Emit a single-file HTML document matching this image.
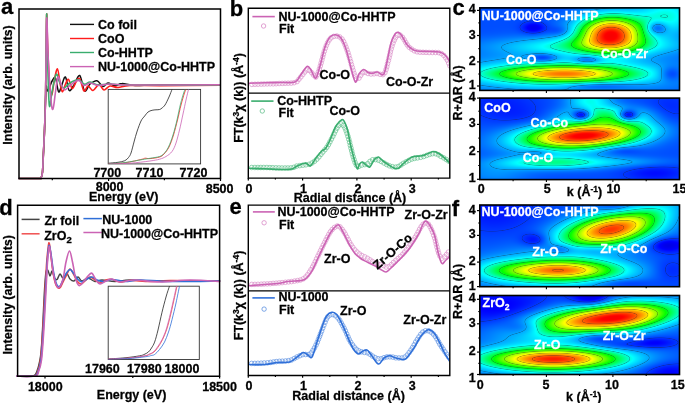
<!DOCTYPE html>
<html><head><meta charset="utf-8"><style>
html,body{margin:0;padding:0;background:#fff;}
#wrap{position:relative;width:685px;height:403px;overflow:hidden;background:#fff;}
svg{position:absolute;left:0;top:0;}
text{font-family:"Liberation Sans", sans-serif;stroke-width:0.28px;paint-order:fill;}
</style></head><body><div id="wrap"><canvas id="map0" width="201" height="84" style="position:absolute;left:479px;top:7px;background:#1a8cff"></canvas><canvas id="map1" width="201" height="82" style="position:absolute;left:479px;top:98px;background:#1a8cff"></canvas><canvas id="map2" width="201" height="82" style="position:absolute;left:479px;top:205px;background:#1a8cff"></canvas><canvas id="map3" width="201" height="80" style="position:absolute;left:479px;top:295px;background:#1a8cff"></canvas>
<svg width="685" height="403" viewBox="0 0 685 403" font-family='"Liberation Sans", sans-serif'>
<text x="1.0" y="14.2" font-size="22" text-anchor="start" fill="#000" stroke="#000" font-weight="bold" >a</text>
<path d="M19.0,178.5C22.3,178.5 35.3,178.6 39.0,178.5C42.7,178.4 40.4,178.9 41.0,177.8C41.6,176.7 42.1,176.6 42.5,172.0C42.9,167.4 43.2,157.3 43.6,150.0C44.0,142.7 44.3,136.3 44.6,128.0C44.9,119.7 45.2,107.0 45.5,100.0C45.8,93.0 45.9,87.5 46.2,86.0C46.5,84.5 46.8,91.0 47.4,91.0C48.0,91.0 49.2,87.8 50.0,86.0C50.8,84.2 51.5,81.8 52.4,80.5C53.3,79.2 54.5,76.1 55.5,78.0C56.5,79.9 57.6,90.5 58.6,91.8C59.6,93.1 60.4,88.5 61.5,86.0C62.6,83.5 64.1,76.2 65.4,77.0C66.7,77.8 67.8,89.2 69.2,90.5C70.6,91.8 72.2,87.5 74.0,85.0C75.8,82.5 77.9,74.5 79.7,75.5C81.5,76.5 82.9,89.6 84.6,91.0C86.3,92.4 87.9,85.7 90.0,84.0C92.1,82.3 94.8,80.3 97.0,80.7C99.2,81.1 101.2,86.1 103.0,86.5C104.8,86.9 106.0,83.1 108.0,83.0C110.0,82.9 112.7,85.7 115.0,85.8C117.3,85.9 118.7,83.6 122.0,83.6C125.3,83.5 128.7,85.3 135.0,85.5C141.3,85.7 145.8,84.9 160.0,84.8C174.2,84.7 210.0,85.0 220.0,85.0" fill="none" stroke="#111" stroke-width="1.5" stroke-linejoin="round" stroke-linecap="round" opacity="1"/>
<path d="M19.0,178.5C22.3,178.5 35.3,178.6 39.0,178.5C42.7,178.4 40.4,178.9 41.0,177.8C41.6,176.7 42.1,176.6 42.5,172.0C42.9,167.4 43.2,157.3 43.6,150.0C44.0,142.7 44.3,136.3 44.6,128.0C44.9,119.7 45.2,113.0 45.5,100.0C45.8,87.0 45.9,64.3 46.1,50.0C46.3,35.7 46.5,14.8 46.7,14.0C47.0,13.2 47.1,33.3 47.6,45.0C48.1,56.7 48.8,75.7 49.5,84.0C50.2,92.3 51.0,95.3 51.8,95.0C52.5,94.7 53.1,86.4 54.0,82.0C54.9,77.6 56.4,68.6 57.4,68.8C58.4,69.0 59.2,79.2 60.0,83.0C60.8,86.8 61.4,91.6 62.3,91.8C63.2,92.0 64.5,86.1 65.5,84.0C66.5,81.9 67.4,78.7 68.5,79.4C69.6,80.2 71.0,88.1 72.2,88.5C73.5,88.9 74.8,83.7 76.0,82.0C77.2,80.3 78.4,77.1 79.7,78.6C81.0,80.1 82.6,89.8 84.0,91.0C85.4,92.2 86.5,86.1 88.0,86.0C89.5,85.9 91.2,90.8 93.0,90.5C94.8,90.2 97.2,84.6 99.0,84.5C100.8,84.4 102.2,89.8 104.0,90.0C105.8,90.2 107.7,86.4 110.0,86.0C112.3,85.6 114.7,87.6 118.0,87.5C121.3,87.4 123.0,85.8 130.0,85.5C137.0,85.2 145.0,85.6 160.0,85.6C175.0,85.6 210.0,85.3 220.0,85.3" fill="none" stroke="#ff1c1c" stroke-width="1.6" stroke-linejoin="round" stroke-linecap="round" opacity="1"/>
<path d="M19.0,178.5C22.3,178.5 35.3,178.6 39.0,178.5C42.7,178.4 40.4,178.9 41.0,177.8C41.6,176.7 42.1,176.6 42.5,172.0C42.9,167.4 43.2,157.3 43.6,150.0C44.0,142.7 44.3,136.3 44.6,128.0C44.9,119.7 45.2,113.0 45.5,100.0C45.8,87.0 45.9,64.3 46.1,50.0C46.3,35.7 46.5,12.3 46.7,14.0C47.0,15.7 47.2,44.8 47.6,60.0C48.0,75.2 48.6,100.1 49.3,105.4C50.0,110.7 50.9,97.2 52.0,92.0C53.1,86.8 54.9,76.1 56.1,74.4C57.4,72.7 58.2,79.7 59.5,82.0C60.8,84.3 61.9,87.8 63.6,88.0C65.3,88.2 67.3,84.4 69.8,83.0C72.3,81.6 75.9,79.6 78.4,79.8C80.9,80.0 82.7,83.8 84.6,84.2C86.5,84.6 87.8,81.9 90.0,82.0C92.2,82.1 94.7,84.7 98.0,85.0C101.3,85.3 104.7,84.0 110.0,84.0C115.3,84.0 111.7,84.8 130.0,85.0C148.3,85.2 205.0,85.0 220.0,85.0" fill="none" stroke="#3aad6e" stroke-width="1.6" stroke-linejoin="round" stroke-linecap="round" opacity="1"/>
<path d="M19.0,178.5C22.3,178.5 35.3,178.6 39.0,178.5C42.7,178.4 40.4,178.9 41.0,177.8C41.6,176.7 42.1,176.6 42.5,172.0C42.9,167.4 43.2,157.3 43.6,150.0C44.0,142.7 44.3,136.3 44.6,128.0C44.9,119.7 45.2,112.2 45.5,100.0C45.8,87.8 45.9,68.7 46.1,55.0C46.3,41.3 46.4,17.2 46.8,18.0C47.2,18.8 47.6,46.3 48.3,60.0C49.0,73.7 50.2,91.8 51.0,100.0C51.8,108.2 52.2,110.3 53.0,109.0C53.8,107.7 54.7,97.3 55.5,92.0C56.3,86.7 57.1,78.2 58.0,76.9C58.9,75.6 59.9,81.8 61.0,84.0C62.1,86.2 63.3,89.6 64.8,89.9C66.3,90.2 67.5,87.2 69.8,85.6C72.1,84.0 76.0,80.4 78.4,80.4C80.8,80.4 82.1,85.1 84.0,85.5C85.9,85.9 87.7,83.0 90.0,83.0C92.3,83.0 94.7,85.3 98.0,85.5C101.3,85.7 104.7,84.1 110.0,84.0C115.3,83.9 111.7,84.9 130.0,85.0C148.3,85.1 205.0,84.8 220.0,84.7" fill="none" stroke="#cb63b4" stroke-width="1.6" stroke-linejoin="round" stroke-linecap="round" opacity="1"/>
<rect x="108.2" y="89.4" width="92.4" height="74.5" fill="#fff" stroke="#333" stroke-width="0.9"/>
<clipPath id="cia"><rect x="108.2" y="89.4" width="92.4" height="74.5"/></clipPath><g clip-path="url(#cia)">
<path d="M108.7,163.2C110.2,163.0 115.3,162.7 118.0,162.3C120.7,161.9 123.0,161.5 124.8,160.7C126.5,159.9 127.5,158.8 128.5,157.5C129.5,156.2 130.1,155.6 131.0,153.0C131.9,150.4 133.0,145.7 134.0,142.0C135.0,138.3 136.0,134.5 137.2,131.0C138.4,127.5 139.8,123.5 141.0,121.0C142.2,118.5 143.5,117.5 144.7,116.0C145.9,114.5 146.8,113.0 148.0,112.0C149.2,111.0 150.8,110.7 152.1,110.3C153.4,109.9 154.8,109.9 156.0,109.8C157.2,109.7 158.6,109.8 159.6,109.5C160.6,109.2 161.1,108.8 162.0,108.0C162.9,107.2 163.8,106.8 165.0,105.0C166.2,103.2 167.8,99.6 169.0,97.0C170.2,94.4 171.5,90.7 172.0,89.4" fill="none" stroke="#222" stroke-width="0.8" stroke-linejoin="round" stroke-linecap="round" opacity="1"/>
<path d="M108.7,163.9C111.4,163.7 119.4,163.6 125.0,162.8C130.6,162.0 138.9,160.0 142.2,159.2C145.5,158.4 143.7,158.3 145.0,158.2C146.3,158.1 147.6,158.8 150.0,158.6C152.4,158.4 157.3,157.8 159.6,157.0C161.9,156.2 162.4,155.7 164.0,154.0C165.6,152.3 167.4,150.2 169.0,147.0C170.6,143.8 172.1,139.5 173.5,135.0C174.9,130.5 176.2,125.0 177.5,120.0C178.8,115.0 179.8,109.5 181.0,105.0C182.2,100.5 183.6,95.6 184.5,93.0C185.4,90.4 185.9,90.0 186.2,89.4" fill="none" stroke="#ff1c1c" stroke-width="0.8" stroke-linejoin="round" stroke-linecap="round" opacity="1"/>
<path d="M108.7,163.8C111.4,163.6 119.4,163.2 125.0,162.5C130.6,161.8 138.0,160.3 142.2,159.6C146.4,158.9 147.1,158.8 150.0,158.3C152.9,157.8 157.3,157.3 159.6,156.5C161.9,155.7 162.5,155.1 164.0,153.5C165.5,151.9 167.0,150.1 168.5,147.0C170.0,143.9 171.6,139.5 173.0,135.0C174.4,130.5 175.8,125.2 177.0,120.0C178.2,114.8 179.3,108.7 180.5,104.0C181.7,99.3 183.2,94.4 184.0,92.0C184.8,89.6 184.8,89.8 185.0,89.4" fill="none" stroke="#3aad6e" stroke-width="0.8" stroke-linejoin="round" stroke-linecap="round" opacity="1"/>
<path d="M108.7,164.0C112.2,163.9 123.1,163.7 130.0,163.2C136.9,162.7 145.1,161.7 150.0,161.0C154.9,160.3 156.9,159.9 159.6,159.2C162.3,158.4 163.9,157.8 166.0,156.5C168.1,155.2 170.3,153.8 172.0,151.5C173.7,149.2 174.8,146.6 176.0,143.0C177.2,139.4 178.3,134.8 179.5,130.0C180.7,125.2 181.9,119.0 183.0,114.0C184.1,109.0 185.1,104.1 186.0,100.0C186.9,95.9 188.1,91.2 188.5,89.4" fill="none" stroke="#cb63b4" stroke-width="0.8" stroke-linejoin="round" stroke-linecap="round" opacity="1"/>
</g>
<path d="M19,9 H220.5 V178.5 H19 Z" fill="none" stroke="#000" stroke-width="1.5"/>
<line x1="52.3" y1="178.5" x2="52.3" y2="180.3" stroke="#000" stroke-width="1.2"/>
<line x1="164.4" y1="178.5" x2="164.4" y2="180.3" stroke="#000" stroke-width="1.2"/>
<line x1="108.6" y1="178.5" x2="108.6" y2="181.0" stroke="#000" stroke-width="1.2"/>
<line x1="220.5" y1="178.5" x2="220.5" y2="181.0" stroke="#000" stroke-width="1.2"/>
<text x="109.6" y="191.0" font-size="12.5" text-anchor="middle" fill="#000" stroke="#000" font-weight="bold" >8000</text>
<text x="219.6" y="193.3" font-size="12.5" text-anchor="middle" fill="#000" stroke="#000" font-weight="bold" >8500</text>
<text x="123.7" y="201.3" font-size="12.5" text-anchor="middle" fill="#000" stroke="#000" font-weight="bold" >Energy (eV)</text>
<text x="107.3" y="177.0" font-size="12.5" text-anchor="middle" fill="#000" stroke="#000" font-weight="bold" >7700</text>
<text x="149.5" y="177.0" font-size="12.5" text-anchor="middle" fill="#000" stroke="#000" font-weight="bold" >7710</text>
<text x="193.5" y="177.0" font-size="12.5" text-anchor="middle" fill="#000" stroke="#000" font-weight="bold" >7720</text>
<text stroke="#000" transform="translate(11.8,85) rotate(-90)" font-size="12.5" font-weight="bold" text-anchor="middle">Intensity (arb. units)</text>
<line x1="70.0" y1="24.4" x2="94.0" y2="24.4" stroke="#111" stroke-width="1.4"/>
<text x="98.0" y="28.7" font-size="12.5" text-anchor="start" fill="#000" stroke="#000" font-weight="bold" >Co foil</text>
<line x1="70.0" y1="38.5" x2="94.0" y2="38.5" stroke="#ff1c1c" stroke-width="1.4"/>
<text x="98.0" y="42.8" font-size="12.5" text-anchor="start" fill="#000" stroke="#000" font-weight="bold" >CoO</text>
<line x1="70.0" y1="52.5" x2="94.0" y2="52.5" stroke="#3aad6e" stroke-width="1.4"/>
<text x="98.0" y="56.8" font-size="12.5" text-anchor="start" fill="#000" stroke="#000" font-weight="bold" >Co-HHTP</text>
<line x1="70.0" y1="66.6" x2="94.0" y2="66.6" stroke="#cb63b4" stroke-width="1.4"/>
<text x="98.0" y="70.9" font-size="12.5" text-anchor="start" fill="#000" stroke="#000" font-weight="bold" >NU-1000@Co-HHTP</text>
<text x="-0.8" y="215.3" font-size="22" text-anchor="start" fill="#000" stroke="#000" font-weight="bold" >d</text>
<path d="M16.8,376.2C19.5,376.2 29.7,376.8 33.0,376.0C36.3,375.2 35.6,374.0 36.7,371.7C37.8,369.4 38.8,365.6 39.5,362.0C40.2,358.4 40.6,357.0 41.2,350.0C41.8,343.0 42.5,330.0 43.0,320.0C43.5,310.0 44.0,298.0 44.5,290.0C45.0,282.0 45.4,275.2 46.0,272.0C46.6,268.8 47.3,269.8 48.0,270.5C48.7,271.2 49.3,275.9 50.0,276.0C50.7,276.1 51.4,270.7 52.1,271.0C52.9,271.3 53.7,276.6 54.5,278.0C55.3,279.4 56.2,280.1 57.1,279.4C58.0,278.7 59.0,274.2 60.0,274.0C61.0,273.8 61.8,278.0 63.0,278.0C64.2,278.0 65.8,273.8 67.0,274.0C68.2,274.2 68.8,277.8 70.0,279.0C71.2,280.2 72.7,281.3 74.0,281.0C75.3,280.7 76.7,277.0 78.0,277.0C79.3,277.0 80.3,280.8 82.0,281.0C83.7,281.2 85.8,277.9 88.0,278.0C90.2,278.1 92.7,281.2 95.0,281.5C97.3,281.8 98.7,280.0 102.0,280.0C105.3,280.0 110.3,281.5 115.0,281.5C119.7,281.5 122.5,280.1 130.0,280.0C137.5,279.9 145.1,280.9 160.0,281.0C174.9,281.1 209.7,280.8 219.6,280.8" fill="none" stroke="#444" stroke-width="1.4" stroke-linejoin="round" stroke-linecap="round" opacity="1"/>
<path d="M16.8,376.2C19.7,376.2 30.6,376.7 34.0,376.0C37.5,375.3 36.4,374.7 37.5,372.0C38.6,369.3 39.7,366.2 40.5,360.0C41.3,353.8 41.8,345.0 42.5,335.0C43.2,325.0 43.8,311.7 44.5,300.0C45.2,288.3 45.9,273.8 46.5,265.0C47.1,256.2 47.8,250.7 48.2,247.0C48.7,243.3 48.8,242.2 49.2,243.0C49.6,243.8 49.9,247.2 50.5,252.0C51.1,256.8 52.1,266.5 53.0,272.0C53.9,277.5 54.9,282.3 56.0,285.0C57.1,287.7 58.4,288.5 59.6,288.0C60.8,287.5 61.9,284.2 63.0,282.0C64.2,279.8 65.3,277.2 66.5,275.0C67.7,272.8 68.8,269.2 70.0,269.0C71.2,268.8 72.3,272.0 73.5,274.0C74.7,276.0 75.8,279.3 77.0,281.0C78.2,282.7 79.7,284.0 81.0,284.0C82.3,284.0 83.5,282.2 85.0,281.0C86.5,279.8 88.3,277.2 90.0,277.0C91.7,276.8 93.3,279.0 95.0,280.0C96.7,281.0 98.2,283.0 100.0,283.0C101.8,283.0 104.0,280.6 106.0,280.0C108.0,279.4 109.7,279.2 112.0,279.5C114.3,279.8 117.0,281.8 120.0,282.0C123.0,282.2 125.0,280.6 130.0,280.5C135.0,280.4 143.3,281.5 150.0,281.5C156.7,281.5 158.4,280.6 170.0,280.5C181.6,280.4 211.3,280.9 219.6,281.0" fill="none" stroke="#f04040" stroke-width="1.6" stroke-linejoin="round" stroke-linecap="round" opacity="1"/>
<path d="M16.8,376.2C19.8,376.2 31.0,376.7 34.5,376.0C38.0,375.3 36.9,374.7 38.0,372.0C39.1,369.3 40.2,366.2 41.0,360.0C41.8,353.8 42.3,345.0 43.0,335.0C43.7,325.0 44.3,311.7 45.0,300.0C45.7,288.3 46.4,273.7 47.0,265.0C47.6,256.3 48.1,251.2 48.5,248.0C48.9,244.8 49.1,245.0 49.5,246.0C49.9,247.0 50.3,249.7 51.0,254.0C51.7,258.3 52.6,267.0 53.5,272.0C54.4,277.0 55.5,281.6 56.5,284.0C57.5,286.4 58.5,287.2 59.6,286.5C60.7,285.8 61.9,282.2 63.0,280.0C64.2,277.8 65.3,274.8 66.5,273.0C67.7,271.2 69.0,269.3 70.3,269.5C71.5,269.7 72.7,272.3 74.0,274.0C75.3,275.7 76.7,278.2 78.0,279.5C79.3,280.8 80.5,282.0 82.0,281.9C83.5,281.8 85.3,279.8 87.0,279.0C88.7,278.2 90.3,276.8 92.0,277.0C93.7,277.2 95.0,279.2 97.0,280.0C99.0,280.8 101.5,281.6 104.0,281.5C106.5,281.4 108.5,279.5 112.0,279.5C115.5,279.5 120.3,281.4 125.0,281.5C129.7,281.6 132.5,280.0 140.0,280.0C147.5,280.0 156.7,281.3 170.0,281.5C183.3,281.7 211.3,281.1 219.6,281.0" fill="none" stroke="#2f6fd8" stroke-width="1.6" stroke-linejoin="round" stroke-linecap="round" opacity="1"/>
<path d="M16.8,376.2C19.8,376.2 31.4,376.7 35.0,376.0C38.6,375.3 37.4,374.7 38.5,372.0C39.6,369.3 40.7,366.2 41.5,360.0C42.3,353.8 42.8,345.0 43.5,335.0C44.2,325.0 44.9,311.7 45.5,300.0C46.1,288.3 46.8,273.5 47.3,265.0C47.8,256.5 48.4,252.0 48.8,249.0C49.2,246.0 49.2,245.8 49.6,247.0C50.0,248.2 50.4,251.5 51.0,256.0C51.6,260.5 52.6,269.1 53.5,274.0C54.4,278.9 55.5,283.3 56.5,285.5C57.5,287.7 58.5,288.1 59.6,287.0C60.7,285.9 61.9,283.2 63.0,279.0C64.1,274.8 64.9,266.7 66.0,262.0C67.1,257.3 68.4,251.0 69.5,251.0C70.6,251.0 71.4,257.2 72.5,262.0C73.6,266.8 74.8,276.1 76.0,280.0C77.2,283.9 78.2,285.4 79.5,285.6C80.8,285.8 82.6,282.6 84.0,281.0C85.4,279.4 86.7,277.3 88.0,276.0C89.3,274.7 90.6,272.5 91.9,273.2C93.2,273.9 94.7,278.2 96.0,280.0C97.3,281.8 98.3,283.8 100.0,284.0C101.7,284.2 104.0,281.8 106.0,281.0C108.0,280.2 109.7,278.8 112.0,279.0C114.3,279.2 116.2,281.8 120.0,282.0C123.8,282.2 128.3,280.0 135.0,280.0C141.7,280.0 150.8,282.0 160.0,282.0C169.2,282.0 180.1,280.1 190.0,280.0C199.9,279.9 214.7,281.2 219.6,281.5" fill="none" stroke="#cb63b4" stroke-width="1.6" stroke-linejoin="round" stroke-linecap="round" opacity="1"/>
<rect x="108.2" y="286.2" width="91.1" height="73.3" fill="#fff" stroke="#333" stroke-width="0.9"/>
<clipPath id="cid"><rect x="108.2" y="286.2" width="91.1" height="73.3"/></clipPath><g clip-path="url(#cid)">
<path d="M108.2,359.0C111.0,358.8 119.8,358.3 125.0,357.8C130.2,357.3 136.5,356.4 139.7,355.8C142.9,355.2 142.6,355.1 144.0,354.5C145.4,353.9 147.2,353.1 148.4,352.0C149.7,350.9 150.5,349.6 151.5,348.0C152.5,346.4 153.5,345.1 154.6,342.1C155.7,339.1 156.8,335.0 158.0,330.0C159.2,325.0 160.7,317.8 162.0,312.3C163.3,306.8 164.8,301.4 166.0,297.0C167.2,292.6 168.9,288.0 169.5,286.2" fill="none" stroke="#222" stroke-width="0.8" stroke-linejoin="round" stroke-linecap="round" opacity="1"/>
<path d="M108.2,359.2C111.8,359.0 123.8,358.7 130.0,358.1C136.2,357.6 141.9,356.5 145.2,355.9C148.4,355.3 148.1,354.9 149.5,354.3C150.9,353.7 152.5,353.3 153.9,352.1C155.3,350.9 156.6,349.3 158.0,347.2C159.4,345.1 161.1,342.6 162.5,339.7C163.9,336.8 165.2,333.7 166.5,330.0C167.8,326.3 168.8,322.1 170.0,317.4C171.2,312.7 172.3,307.2 173.5,302.0C174.7,296.8 176.4,288.8 177.0,286.2" fill="none" stroke="#f04040" stroke-width="0.8" stroke-linejoin="round" stroke-linecap="round" opacity="1"/>
<path d="M108.2,359.2C111.8,359.0 123.9,358.6 130.0,358.0C136.1,357.4 141.5,356.4 144.7,355.8C147.9,355.2 147.6,354.8 149.0,354.2C150.4,353.6 152.0,353.2 153.4,352.0C154.8,350.8 156.1,349.1 157.5,347.0C158.9,344.9 160.6,342.4 162.0,339.6C163.4,336.8 164.8,333.7 166.0,330.0C167.2,326.3 168.3,322.0 169.5,317.3C170.7,312.6 171.8,307.2 173.0,302.0C174.2,296.8 175.9,288.8 176.5,286.2" fill="none" stroke="#cb63b4" stroke-width="0.8" stroke-linejoin="round" stroke-linecap="round" opacity="1"/>
<path d="M108.2,359.4C111.8,359.2 123.5,359.0 130.0,358.5C136.5,358.0 143.7,357.0 147.2,356.5C150.7,356.0 149.8,355.8 151.0,355.5C152.2,355.2 153.2,355.5 154.6,354.5C156.0,353.5 157.8,351.6 159.5,349.5C161.2,347.4 163.0,345.0 164.5,342.1C166.0,339.2 167.2,335.7 168.5,332.0C169.8,328.3 170.8,324.5 172.0,319.7C173.2,314.9 174.8,308.6 176.0,303.0C177.2,297.4 178.9,289.0 179.5,286.2" fill="none" stroke="#2f6fd8" stroke-width="0.8" stroke-linejoin="round" stroke-linecap="round" opacity="1"/>
</g>
<path d="M17.6,205.2 H219.6 V376.2 H17.6 Z" fill="none" stroke="#000" stroke-width="1.5"/>
<line x1="132.8" y1="376.2" x2="132.8" y2="378.0" stroke="#000" stroke-width="1.2"/>
<line x1="45.0" y1="376.2" x2="45.0" y2="378.6" stroke="#000" stroke-width="1.2"/>
<line x1="219.6" y1="376.2" x2="219.6" y2="378.6" stroke="#000" stroke-width="1.2"/>
<text x="45.3" y="391.1" font-size="12.5" text-anchor="middle" fill="#000" stroke="#000" font-weight="bold" >18000</text>
<text x="219.6" y="391.1" font-size="12.5" text-anchor="middle" fill="#000" stroke="#000" font-weight="bold" >18500</text>
<text x="131.6" y="398.8" font-size="12.5" text-anchor="middle" fill="#000" stroke="#000" font-weight="bold" >Energy (eV)</text>
<text x="102.4" y="372.6" font-size="12.5" text-anchor="middle" fill="#000" stroke="#000" font-weight="bold" >17960</text>
<text x="144.3" y="372.6" font-size="12.5" text-anchor="middle" fill="#000" stroke="#000" font-weight="bold" >17980</text>
<text x="182.0" y="372.6" font-size="12.5" text-anchor="middle" fill="#000" stroke="#000" font-weight="bold" >18000</text>
<text stroke="#000" transform="translate(11.5,294.8) rotate(-90)" font-size="12.5" font-weight="bold" text-anchor="middle">Intensity (arb. units)</text>
<line x1="21.6" y1="219.4" x2="39.6" y2="219.4" stroke="#444" stroke-width="1.5"/>
<text x="44.4" y="225.1" font-size="12.5" text-anchor="start" fill="#000" stroke="#000" font-weight="bold" >Zr foil</text>
<line x1="21.6" y1="233.8" x2="39.6" y2="233.8" stroke="#f05050" stroke-width="1.5"/>
<text stroke="#000" x="44.2" y="239.6" font-size="12.5" font-weight="bold">ZrO<tspan font-size="9.5" dy="3">2</tspan></text>
<line x1="83.4" y1="218.6" x2="101.9" y2="218.6" stroke="#2f6fd8" stroke-width="1.5"/>
<text x="102.3" y="223.5" font-size="12.5" text-anchor="start" fill="#000" stroke="#000" font-weight="bold" >NU-1000</text>
<line x1="83.4" y1="232.5" x2="101.9" y2="232.5" stroke="#cb63b4" stroke-width="1.5"/>
<text x="101.0" y="237.8" font-size="12.5" text-anchor="start" fill="#000" stroke="#000" font-weight="bold" >NU-1000@Co-HHTP</text>
<text x="229.8" y="15.6" font-size="22" text-anchor="start" fill="#000" stroke="#000" font-weight="bold" >b</text>
<clipPath id="cb"><rect x="249" y="8" width="200.3" height="170"/></clipPath><g clip-path="url(#cb)">
<path d="M249.6,84.4a2.3,2.3 0 1,0 4.6,0a2.3,2.3 0 1,0 -4.6,0M252.7,84.3a2.3,2.3 0 1,0 4.6,0a2.3,2.3 0 1,0 -4.6,0M255.7,84.2a2.3,2.3 0 1,0 4.6,0a2.3,2.3 0 1,0 -4.6,0M258.9,84.1a2.3,2.3 0 1,0 4.6,0a2.3,2.3 0 1,0 -4.6,0M261.8,84.0a2.3,2.3 0 1,0 4.6,0a2.3,2.3 0 1,0 -4.6,0M264.9,83.9a2.3,2.3 0 1,0 4.6,0a2.3,2.3 0 1,0 -4.6,0M267.9,83.8a2.3,2.3 0 1,0 4.6,0a2.3,2.3 0 1,0 -4.6,0M270.9,83.8a2.3,2.3 0 1,0 4.6,0a2.3,2.3 0 1,0 -4.6,0M273.8,83.7a2.3,2.3 0 1,0 4.6,0a2.3,2.3 0 1,0 -4.6,0M276.8,83.5a2.3,2.3 0 1,0 4.6,0a2.3,2.3 0 1,0 -4.6,0M279.9,83.4a2.3,2.3 0 1,0 4.6,0a2.3,2.3 0 1,0 -4.6,0M282.8,83.3a2.3,2.3 0 1,0 4.6,0a2.3,2.3 0 1,0 -4.6,0M285.8,83.2a2.3,2.3 0 1,0 4.6,0a2.3,2.3 0 1,0 -4.6,0M288.9,83.1a2.3,2.3 0 1,0 4.6,0a2.3,2.3 0 1,0 -4.6,0M291.8,82.7a2.3,2.3 0 1,0 4.6,0a2.3,2.3 0 1,0 -4.6,0M294.7,81.6a2.3,2.3 0 1,0 4.6,0a2.3,2.3 0 1,0 -4.6,0M296.6,79.3a2.3,2.3 0 1,0 4.6,0a2.3,2.3 0 1,0 -4.6,0M298.6,76.9a2.3,2.3 0 1,0 4.6,0a2.3,2.3 0 1,0 -4.6,0M300.5,74.5a2.3,2.3 0 1,0 4.6,0a2.3,2.3 0 1,0 -4.6,0M302.4,72.1a2.3,2.3 0 1,0 4.6,0a2.3,2.3 0 1,0 -4.6,0M304.5,70.1a2.3,2.3 0 1,0 4.6,0a2.3,2.3 0 1,0 -4.6,0M307.3,70.6a2.3,2.3 0 1,0 4.6,0a2.3,2.3 0 1,0 -4.6,0M309.5,72.8a2.3,2.3 0 1,0 4.6,0a2.3,2.3 0 1,0 -4.6,0M311.3,75.1a2.3,2.3 0 1,0 4.6,0a2.3,2.3 0 1,0 -4.6,0M313.5,77.1a2.3,2.3 0 1,0 4.6,0a2.3,2.3 0 1,0 -4.6,0M315.1,74.7a2.3,2.3 0 1,0 4.6,0a2.3,2.3 0 1,0 -4.6,0M316.1,71.9a2.3,2.3 0 1,0 4.6,0a2.3,2.3 0 1,0 -4.6,0M317.1,69.0a2.3,2.3 0 1,0 4.6,0a2.3,2.3 0 1,0 -4.6,0M318.0,66.0a2.3,2.3 0 1,0 4.6,0a2.3,2.3 0 1,0 -4.6,0M318.8,63.0a2.3,2.3 0 1,0 4.6,0a2.3,2.3 0 1,0 -4.6,0M319.6,59.9a2.3,2.3 0 1,0 4.6,0a2.3,2.3 0 1,0 -4.6,0M320.4,57.0a2.3,2.3 0 1,0 4.6,0a2.3,2.3 0 1,0 -4.6,0M321.1,54.2a2.3,2.3 0 1,0 4.6,0a2.3,2.3 0 1,0 -4.6,0M322.0,51.3a2.3,2.3 0 1,0 4.6,0a2.3,2.3 0 1,0 -4.6,0M323.0,48.3a2.3,2.3 0 1,0 4.6,0a2.3,2.3 0 1,0 -4.6,0M324.0,45.5a2.3,2.3 0 1,0 4.6,0a2.3,2.3 0 1,0 -4.6,0M325.3,42.7a2.3,2.3 0 1,0 4.6,0a2.3,2.3 0 1,0 -4.6,0M326.8,40.1a2.3,2.3 0 1,0 4.6,0a2.3,2.3 0 1,0 -4.6,0M328.7,37.9a2.3,2.3 0 1,0 4.6,0a2.3,2.3 0 1,0 -4.6,0M331.5,36.4a2.3,2.3 0 1,0 4.6,0a2.3,2.3 0 1,0 -4.6,0M334.5,36.0a2.3,2.3 0 1,0 4.6,0a2.3,2.3 0 1,0 -4.6,0M337.3,36.9a2.3,2.3 0 1,0 4.6,0a2.3,2.3 0 1,0 -4.6,0M339.7,39.0a2.3,2.3 0 1,0 4.6,0a2.3,2.3 0 1,0 -4.6,0M341.3,41.6a2.3,2.3 0 1,0 4.6,0a2.3,2.3 0 1,0 -4.6,0M342.6,44.5a2.3,2.3 0 1,0 4.6,0a2.3,2.3 0 1,0 -4.6,0M343.7,47.2a2.3,2.3 0 1,0 4.6,0a2.3,2.3 0 1,0 -4.6,0M344.7,50.0a2.3,2.3 0 1,0 4.6,0a2.3,2.3 0 1,0 -4.6,0M345.7,52.8a2.3,2.3 0 1,0 4.6,0a2.3,2.3 0 1,0 -4.6,0M346.5,55.6a2.3,2.3 0 1,0 4.6,0a2.3,2.3 0 1,0 -4.6,0M347.4,58.6a2.3,2.3 0 1,0 4.6,0a2.3,2.3 0 1,0 -4.6,0M348.3,61.5a2.3,2.3 0 1,0 4.6,0a2.3,2.3 0 1,0 -4.6,0M349.1,64.5a2.3,2.3 0 1,0 4.6,0a2.3,2.3 0 1,0 -4.6,0M350.0,67.4a2.3,2.3 0 1,0 4.6,0a2.3,2.3 0 1,0 -4.6,0M350.8,70.3a2.3,2.3 0 1,0 4.6,0a2.3,2.3 0 1,0 -4.6,0M351.7,73.3a2.3,2.3 0 1,0 4.6,0a2.3,2.3 0 1,0 -4.6,0M352.7,76.0a2.3,2.3 0 1,0 4.6,0a2.3,2.3 0 1,0 -4.6,0M354.1,78.7a2.3,2.3 0 1,0 4.6,0a2.3,2.3 0 1,0 -4.6,0M356.7,78.1a2.3,2.3 0 1,0 4.6,0a2.3,2.3 0 1,0 -4.6,0M358.4,75.4a2.3,2.3 0 1,0 4.6,0a2.3,2.3 0 1,0 -4.6,0M360.1,72.9a2.3,2.3 0 1,0 4.6,0a2.3,2.3 0 1,0 -4.6,0M362.9,72.4a2.3,2.3 0 1,0 4.6,0a2.3,2.3 0 1,0 -4.6,0M365.7,73.5a2.3,2.3 0 1,0 4.6,0a2.3,2.3 0 1,0 -4.6,0M368.7,74.0a2.3,2.3 0 1,0 4.6,0a2.3,2.3 0 1,0 -4.6,0M371.7,73.8a2.3,2.3 0 1,0 4.6,0a2.3,2.3 0 1,0 -4.6,0M374.7,73.5a2.3,2.3 0 1,0 4.6,0a2.3,2.3 0 1,0 -4.6,0M377.8,74.3a2.3,2.3 0 1,0 4.6,0a2.3,2.3 0 1,0 -4.6,0M380.6,74.6a2.3,2.3 0 1,0 4.6,0a2.3,2.3 0 1,0 -4.6,0M382.6,72.6a2.3,2.3 0 1,0 4.6,0a2.3,2.3 0 1,0 -4.6,0M383.7,69.6a2.3,2.3 0 1,0 4.6,0a2.3,2.3 0 1,0 -4.6,0M384.5,66.8a2.3,2.3 0 1,0 4.6,0a2.3,2.3 0 1,0 -4.6,0M385.2,63.7a2.3,2.3 0 1,0 4.6,0a2.3,2.3 0 1,0 -4.6,0M386.1,60.6a2.3,2.3 0 1,0 4.6,0a2.3,2.3 0 1,0 -4.6,0M386.8,57.7a2.3,2.3 0 1,0 4.6,0a2.3,2.3 0 1,0 -4.6,0M387.5,54.8a2.3,2.3 0 1,0 4.6,0a2.3,2.3 0 1,0 -4.6,0M388.1,51.9a2.3,2.3 0 1,0 4.6,0a2.3,2.3 0 1,0 -4.6,0M388.9,48.9a2.3,2.3 0 1,0 4.6,0a2.3,2.3 0 1,0 -4.6,0M389.7,46.0a2.3,2.3 0 1,0 4.6,0a2.3,2.3 0 1,0 -4.6,0M390.7,43.1a2.3,2.3 0 1,0 4.6,0a2.3,2.3 0 1,0 -4.6,0M391.9,40.3a2.3,2.3 0 1,0 4.6,0a2.3,2.3 0 1,0 -4.6,0M393.2,37.7a2.3,2.3 0 1,0 4.6,0a2.3,2.3 0 1,0 -4.6,0M395.1,35.5a2.3,2.3 0 1,0 4.6,0a2.3,2.3 0 1,0 -4.6,0M397.9,35.2a2.3,2.3 0 1,0 4.6,0a2.3,2.3 0 1,0 -4.6,0M400.2,37.3a2.3,2.3 0 1,0 4.6,0a2.3,2.3 0 1,0 -4.6,0M401.9,39.8a2.3,2.3 0 1,0 4.6,0a2.3,2.3 0 1,0 -4.6,0M403.4,42.4a2.3,2.3 0 1,0 4.6,0a2.3,2.3 0 1,0 -4.6,0M404.9,44.9a2.3,2.3 0 1,0 4.6,0a2.3,2.3 0 1,0 -4.6,0M406.9,47.3a2.3,2.3 0 1,0 4.6,0a2.3,2.3 0 1,0 -4.6,0M409.3,49.1a2.3,2.3 0 1,0 4.6,0a2.3,2.3 0 1,0 -4.6,0M412.0,50.8a2.3,2.3 0 1,0 4.6,0a2.3,2.3 0 1,0 -4.6,0M414.8,51.8a2.3,2.3 0 1,0 4.6,0a2.3,2.3 0 1,0 -4.6,0M417.7,52.2a2.3,2.3 0 1,0 4.6,0a2.3,2.3 0 1,0 -4.6,0M420.7,52.3a2.3,2.3 0 1,0 4.6,0a2.3,2.3 0 1,0 -4.6,0M423.7,52.4a2.3,2.3 0 1,0 4.6,0a2.3,2.3 0 1,0 -4.6,0M426.8,52.5a2.3,2.3 0 1,0 4.6,0a2.3,2.3 0 1,0 -4.6,0M430.0,52.5a2.3,2.3 0 1,0 4.6,0a2.3,2.3 0 1,0 -4.6,0M433.2,52.5a2.3,2.3 0 1,0 4.6,0a2.3,2.3 0 1,0 -4.6,0M436.2,52.6a2.3,2.3 0 1,0 4.6,0a2.3,2.3 0 1,0 -4.6,0M439.1,53.6a2.3,2.3 0 1,0 4.6,0a2.3,2.3 0 1,0 -4.6,0M441.5,55.4a2.3,2.3 0 1,0 4.6,0a2.3,2.3 0 1,0 -4.6,0M443.5,57.8a2.3,2.3 0 1,0 4.6,0a2.3,2.3 0 1,0 -4.6,0M445.1,60.2a2.3,2.3 0 1,0 4.6,0a2.3,2.3 0 1,0 -4.6,0M446.4,63.1a2.3,2.3 0 1,0 4.6,0a2.3,2.3 0 1,0 -4.6,0M447.6,65.9a2.3,2.3 0 1,0 4.6,0a2.3,2.3 0 1,0 -4.6,0" fill="none" stroke="#dc95cc" stroke-width="0.75"/>
<path d="M248.8,83.2C251.5,83.1 259.8,82.9 265.0,82.8C270.2,82.7 275.0,82.6 280.0,82.5C285.0,82.4 291.7,83.1 295.0,82.0C298.3,80.9 298.0,78.6 300.0,76.0C302.0,73.4 305.2,67.5 307.0,66.5C308.8,65.5 309.6,68.0 311.0,70.0C312.4,72.0 314.2,78.9 315.7,78.2C317.2,77.5 318.4,71.2 320.0,66.0C321.6,60.8 323.3,51.8 325.0,47.0C326.7,42.2 328.2,39.0 330.0,37.0C331.8,35.0 333.8,34.6 335.6,34.8C337.4,35.0 339.2,35.5 341.0,38.0C342.8,40.5 344.5,44.7 346.2,49.7C347.9,54.7 349.5,62.6 351.0,68.0C352.5,73.4 354.1,81.0 355.4,82.0C356.7,83.0 357.6,76.1 359.0,74.0C360.4,71.9 362.1,69.8 363.6,69.5C365.1,69.2 366.6,71.9 368.0,72.5C369.4,73.1 370.8,73.4 372.3,73.3C373.9,73.2 375.4,71.8 377.3,72.0C379.2,72.2 381.9,76.2 383.5,74.5C385.1,72.8 385.8,67.2 387.0,62.0C388.2,56.8 389.7,47.7 391.0,43.0C392.3,38.3 393.8,35.8 395.0,34.0C396.2,32.2 397.2,32.0 398.4,32.3C399.6,32.6 400.6,33.9 402.0,36.0C403.4,38.1 405.3,42.5 407.0,44.7C408.7,46.9 410.3,48.0 412.0,49.0C413.7,50.0 414.0,50.6 417.0,51.0C420.0,51.4 426.3,51.3 430.0,51.5C433.7,51.7 436.9,51.4 439.4,52.0C441.9,52.6 443.2,53.3 445.0,55.0C446.8,56.7 449.2,60.8 450.0,62.0" fill="none" stroke="#cb63b4" stroke-width="1.6" stroke-linejoin="round" stroke-linecap="round" opacity="1"/>
<path d="M249.4,167.5a2.3,2.3 0 1,0 4.6,0a2.3,2.3 0 1,0 -4.6,0M252.6,167.5a2.3,2.3 0 1,0 4.6,0a2.3,2.3 0 1,0 -4.6,0M255.6,167.5a2.3,2.3 0 1,0 4.6,0a2.3,2.3 0 1,0 -4.6,0M258.5,167.5a2.3,2.3 0 1,0 4.6,0a2.3,2.3 0 1,0 -4.6,0M261.5,167.5a2.3,2.3 0 1,0 4.6,0a2.3,2.3 0 1,0 -4.6,0M264.6,167.5a2.3,2.3 0 1,0 4.6,0a2.3,2.3 0 1,0 -4.6,0M267.6,167.6a2.3,2.3 0 1,0 4.6,0a2.3,2.3 0 1,0 -4.6,0M270.5,167.7a2.3,2.3 0 1,0 4.6,0a2.3,2.3 0 1,0 -4.6,0M273.6,167.8a2.3,2.3 0 1,0 4.6,0a2.3,2.3 0 1,0 -4.6,0M276.6,167.9a2.3,2.3 0 1,0 4.6,0a2.3,2.3 0 1,0 -4.6,0M279.6,168.0a2.3,2.3 0 1,0 4.6,0a2.3,2.3 0 1,0 -4.6,0M282.7,168.0a2.3,2.3 0 1,0 4.6,0a2.3,2.3 0 1,0 -4.6,0M285.6,168.0a2.3,2.3 0 1,0 4.6,0a2.3,2.3 0 1,0 -4.6,0M288.6,167.9a2.3,2.3 0 1,0 4.6,0a2.3,2.3 0 1,0 -4.6,0M291.6,167.3a2.3,2.3 0 1,0 4.6,0a2.3,2.3 0 1,0 -4.6,0M294.4,166.1a2.3,2.3 0 1,0 4.6,0a2.3,2.3 0 1,0 -4.6,0M297.5,165.6a2.3,2.3 0 1,0 4.6,0a2.3,2.3 0 1,0 -4.6,0M300.6,165.2a2.3,2.3 0 1,0 4.6,0a2.3,2.3 0 1,0 -4.6,0M303.6,164.8a2.3,2.3 0 1,0 4.6,0a2.3,2.3 0 1,0 -4.6,0M306.8,164.3a2.3,2.3 0 1,0 4.6,0a2.3,2.3 0 1,0 -4.6,0M309.7,163.0a2.3,2.3 0 1,0 4.6,0a2.3,2.3 0 1,0 -4.6,0M312.2,161.3a2.3,2.3 0 1,0 4.6,0a2.3,2.3 0 1,0 -4.6,0M314.5,159.2a2.3,2.3 0 1,0 4.6,0a2.3,2.3 0 1,0 -4.6,0M316.6,156.9a2.3,2.3 0 1,0 4.6,0a2.3,2.3 0 1,0 -4.6,0M318.6,154.4a2.3,2.3 0 1,0 4.6,0a2.3,2.3 0 1,0 -4.6,0M320.5,152.1a2.3,2.3 0 1,0 4.6,0a2.3,2.3 0 1,0 -4.6,0M322.6,149.7a2.3,2.3 0 1,0 4.6,0a2.3,2.3 0 1,0 -4.6,0M324.5,147.3a2.3,2.3 0 1,0 4.6,0a2.3,2.3 0 1,0 -4.6,0M326.2,144.6a2.3,2.3 0 1,0 4.6,0a2.3,2.3 0 1,0 -4.6,0M327.6,141.9a2.3,2.3 0 1,0 4.6,0a2.3,2.3 0 1,0 -4.6,0M329.1,139.1a2.3,2.3 0 1,0 4.6,0a2.3,2.3 0 1,0 -4.6,0M330.5,136.4a2.3,2.3 0 1,0 4.6,0a2.3,2.3 0 1,0 -4.6,0M331.8,133.7a2.3,2.3 0 1,0 4.6,0a2.3,2.3 0 1,0 -4.6,0M333.2,130.8a2.3,2.3 0 1,0 4.6,0a2.3,2.3 0 1,0 -4.6,0M334.6,128.2a2.3,2.3 0 1,0 4.6,0a2.3,2.3 0 1,0 -4.6,0M336.3,125.6a2.3,2.3 0 1,0 4.6,0a2.3,2.3 0 1,0 -4.6,0M338.7,124.0a2.3,2.3 0 1,0 4.6,0a2.3,2.3 0 1,0 -4.6,0M341.1,125.5a2.3,2.3 0 1,0 4.6,0a2.3,2.3 0 1,0 -4.6,0M342.7,128.0a2.3,2.3 0 1,0 4.6,0a2.3,2.3 0 1,0 -4.6,0M343.8,130.7a2.3,2.3 0 1,0 4.6,0a2.3,2.3 0 1,0 -4.6,0M344.8,133.5a2.3,2.3 0 1,0 4.6,0a2.3,2.3 0 1,0 -4.6,0M345.7,136.4a2.3,2.3 0 1,0 4.6,0a2.3,2.3 0 1,0 -4.6,0M346.5,139.3a2.3,2.3 0 1,0 4.6,0a2.3,2.3 0 1,0 -4.6,0M347.3,142.2a2.3,2.3 0 1,0 4.6,0a2.3,2.3 0 1,0 -4.6,0M348.0,145.3a2.3,2.3 0 1,0 4.6,0a2.3,2.3 0 1,0 -4.6,0M348.7,148.1a2.3,2.3 0 1,0 4.6,0a2.3,2.3 0 1,0 -4.6,0M349.4,151.0a2.3,2.3 0 1,0 4.6,0a2.3,2.3 0 1,0 -4.6,0M350.1,153.9a2.3,2.3 0 1,0 4.6,0a2.3,2.3 0 1,0 -4.6,0M350.9,156.7a2.3,2.3 0 1,0 4.6,0a2.3,2.3 0 1,0 -4.6,0M351.8,159.6a2.3,2.3 0 1,0 4.6,0a2.3,2.3 0 1,0 -4.6,0M352.8,162.5a2.3,2.3 0 1,0 4.6,0a2.3,2.3 0 1,0 -4.6,0M354.1,165.2a2.3,2.3 0 1,0 4.6,0a2.3,2.3 0 1,0 -4.6,0M356.5,166.4a2.3,2.3 0 1,0 4.6,0a2.3,2.3 0 1,0 -4.6,0M359.4,165.1a2.3,2.3 0 1,0 4.6,0a2.3,2.3 0 1,0 -4.6,0M362.5,164.6a2.3,2.3 0 1,0 4.6,0a2.3,2.3 0 1,0 -4.6,0M365.4,163.6a2.3,2.3 0 1,0 4.6,0a2.3,2.3 0 1,0 -4.6,0M367.7,161.4a2.3,2.3 0 1,0 4.6,0a2.3,2.3 0 1,0 -4.6,0M370.3,159.8a2.3,2.3 0 1,0 4.6,0a2.3,2.3 0 1,0 -4.6,0M373.3,159.6a2.3,2.3 0 1,0 4.6,0a2.3,2.3 0 1,0 -4.6,0M376.2,160.2a2.3,2.3 0 1,0 4.6,0a2.3,2.3 0 1,0 -4.6,0M379.0,161.5a2.3,2.3 0 1,0 4.6,0a2.3,2.3 0 1,0 -4.6,0M381.7,163.0a2.3,2.3 0 1,0 4.6,0a2.3,2.3 0 1,0 -4.6,0M384.4,164.5a2.3,2.3 0 1,0 4.6,0a2.3,2.3 0 1,0 -4.6,0M387.1,165.8a2.3,2.3 0 1,0 4.6,0a2.3,2.3 0 1,0 -4.6,0M390.1,166.7a2.3,2.3 0 1,0 4.6,0a2.3,2.3 0 1,0 -4.6,0M393.2,167.2a2.3,2.3 0 1,0 4.6,0a2.3,2.3 0 1,0 -4.6,0M396.0,166.5a2.3,2.3 0 1,0 4.6,0a2.3,2.3 0 1,0 -4.6,0M398.7,165.0a2.3,2.3 0 1,0 4.6,0a2.3,2.3 0 1,0 -4.6,0M401.1,163.3a2.3,2.3 0 1,0 4.6,0a2.3,2.3 0 1,0 -4.6,0M403.8,161.8a2.3,2.3 0 1,0 4.6,0a2.3,2.3 0 1,0 -4.6,0M406.5,160.4a2.3,2.3 0 1,0 4.6,0a2.3,2.3 0 1,0 -4.6,0M409.4,159.1a2.3,2.3 0 1,0 4.6,0a2.3,2.3 0 1,0 -4.6,0M412.2,158.4a2.3,2.3 0 1,0 4.6,0a2.3,2.3 0 1,0 -4.6,0M415.2,157.9a2.3,2.3 0 1,0 4.6,0a2.3,2.3 0 1,0 -4.6,0M418.4,157.3a2.3,2.3 0 1,0 4.6,0a2.3,2.3 0 1,0 -4.6,0M421.4,156.5a2.3,2.3 0 1,0 4.6,0a2.3,2.3 0 1,0 -4.6,0M424.4,155.4a2.3,2.3 0 1,0 4.6,0a2.3,2.3 0 1,0 -4.6,0M427.2,154.4a2.3,2.3 0 1,0 4.6,0a2.3,2.3 0 1,0 -4.6,0M430.1,153.7a2.3,2.3 0 1,0 4.6,0a2.3,2.3 0 1,0 -4.6,0M433.3,153.7a2.3,2.3 0 1,0 4.6,0a2.3,2.3 0 1,0 -4.6,0M436.1,154.8a2.3,2.3 0 1,0 4.6,0a2.3,2.3 0 1,0 -4.6,0M438.6,156.4a2.3,2.3 0 1,0 4.6,0a2.3,2.3 0 1,0 -4.6,0M441.4,157.9a2.3,2.3 0 1,0 4.6,0a2.3,2.3 0 1,0 -4.6,0M444.1,159.6a2.3,2.3 0 1,0 4.6,0a2.3,2.3 0 1,0 -4.6,0M446.7,161.3a2.3,2.3 0 1,0 4.6,0a2.3,2.3 0 1,0 -4.6,0" fill="none" stroke="#6cc594" stroke-width="0.75"/>
<path d="M248.8,168.2C251.5,168.3 258.2,168.6 265.0,168.8C271.8,169.0 284.4,169.9 289.7,169.4C295.0,168.9 294.5,167.0 297.0,166.0C299.5,165.0 302.8,163.4 304.6,163.2C306.4,162.9 307.0,164.1 308.0,164.5C309.0,164.9 309.5,166.8 310.8,165.7C312.1,164.6 314.1,160.5 316.0,158.0C317.9,155.5 320.4,152.4 322.0,150.8C323.6,149.2 324.4,150.1 325.7,148.3C327.0,146.5 328.3,143.7 330.0,140.0C331.7,136.3 334.0,129.4 336.0,126.0C338.0,122.6 340.4,120.5 341.8,119.8C343.2,119.1 343.6,120.3 344.5,122.0C345.4,123.7 346.4,125.5 347.5,129.7C348.6,133.9 349.4,140.6 351.0,147.0C352.6,153.4 355.5,165.4 356.9,168.2C358.3,171.0 358.6,165.0 359.5,164.0C360.4,163.0 361.3,161.8 362.4,162.0C363.5,162.2 364.8,164.2 366.0,165.0C367.2,165.8 368.5,167.8 369.8,167.0C371.1,166.2 372.6,161.7 374.0,160.0C375.4,158.3 377.0,156.8 378.5,157.0C380.0,157.2 381.1,159.6 383.0,161.0C384.9,162.4 387.9,164.5 389.7,165.7C391.5,166.9 392.6,167.6 394.0,168.0C395.4,168.4 396.7,169.0 398.4,168.2C400.1,167.4 401.7,164.9 404.0,163.0C406.3,161.1 409.0,158.2 412.0,157.0C415.0,155.8 419.3,156.4 422.0,155.8C424.7,155.2 425.9,154.2 428.0,153.5C430.1,152.8 432.2,151.3 434.4,151.6C436.6,151.8 438.4,153.1 441.0,155.0C443.6,156.9 448.5,161.8 450.0,163.2" fill="none" stroke="#3aad6e" stroke-width="1.6" stroke-linejoin="round" stroke-linecap="round" opacity="1"/>
</g>
<path d="M248.3,8.2 H449.8 V178.1 H248.3 Z" fill="none" stroke="#000" stroke-width="1.4"/>
<line x1="248.3" y1="93.2" x2="449.8" y2="93.2" stroke="#000" stroke-width="1.3"/>
<line x1="248.3" y1="178.1" x2="248.3" y2="180.4" stroke="#000" stroke-width="1.2"/>
<line x1="275.4" y1="178.1" x2="275.4" y2="179.6" stroke="#000" stroke-width="1.2"/>
<line x1="302.6" y1="178.1" x2="302.6" y2="180.4" stroke="#000" stroke-width="1.2"/>
<line x1="329.8" y1="178.1" x2="329.8" y2="179.6" stroke="#000" stroke-width="1.2"/>
<line x1="356.9" y1="178.1" x2="356.9" y2="180.4" stroke="#000" stroke-width="1.2"/>
<line x1="384.1" y1="178.1" x2="384.1" y2="179.6" stroke="#000" stroke-width="1.2"/>
<line x1="411.2" y1="178.1" x2="411.2" y2="180.4" stroke="#000" stroke-width="1.2"/>
<line x1="438.4" y1="178.1" x2="438.4" y2="179.6" stroke="#000" stroke-width="1.2"/>
<text x="249.1" y="193.2" font-size="12.5" text-anchor="middle" fill="#000" stroke="#000" font-weight="bold" >0</text>
<text x="303.5" y="193.2" font-size="12.5" text-anchor="middle" fill="#000" stroke="#000" font-weight="bold" >1</text>
<text x="357.9" y="193.2" font-size="12.5" text-anchor="middle" fill="#000" stroke="#000" font-weight="bold" >2</text>
<text x="412.3" y="193.2" font-size="12.5" text-anchor="middle" fill="#000" stroke="#000" font-weight="bold" >3</text>
<text x="350.0" y="201.6" font-size="12.5" text-anchor="middle" fill="#000" stroke="#000" font-weight="bold" >Radial distance (Å)</text>
<line x1="252.4" y1="16.6" x2="274.8" y2="16.6" stroke="#cb63b4" stroke-width="1.6"/>
<text x="278.5" y="20.5" font-size="12.5" text-anchor="start" fill="#000" stroke="#000" font-weight="bold" >NU-1000@Co-HHTP</text>
<circle cx="263.6" cy="26" r="2.2" fill="none" stroke="#dc95cc" stroke-width="0.9"/>
<text x="279.0" y="32.8" font-size="12.5" text-anchor="start" fill="#000" stroke="#000" font-weight="bold" >Fit</text>
<text x="319.5" y="79.0" font-size="12.5" text-anchor="start" fill="#000" stroke="#000" font-weight="bold" >Co-O</text>
<text x="386.0" y="85.7" font-size="12.5" text-anchor="start" fill="#000" stroke="#000" font-weight="bold" >Co-O-Zr</text>
<line x1="251.2" y1="101.1" x2="273.5" y2="101.1" stroke="#3aad6e" stroke-width="1.6"/>
<text x="277.2" y="105.0" font-size="12.5" text-anchor="start" fill="#000" stroke="#000" font-weight="bold" >Co-HHTP</text>
<circle cx="262.3" cy="111" r="2.2" fill="none" stroke="#66c08e" stroke-width="0.8"/>
<text x="278.5" y="116.8" font-size="12.5" text-anchor="start" fill="#000" stroke="#000" font-weight="bold" >Fit</text>
<text x="329.4" y="114.8" font-size="12.5" text-anchor="start" fill="#000" stroke="#000" font-weight="bold" >Co-O</text>
<text stroke="#000" transform="translate(242.8,98) rotate(-90)" font-size="12.5" font-weight="bold" text-anchor="middle">FT(k<tspan font-size="8.5" dy="-4">3</tspan><tspan dy="4">χ (k)) (Å</tspan><tspan font-size="8.5" dy="-4">-4</tspan><tspan dy="4">)</tspan></text>
<text x="229.6" y="214.2" font-size="22" text-anchor="start" fill="#000" stroke="#000" font-weight="bold" >e</text>
<clipPath id="ce"><rect x="249" y="205" width="200.3" height="170"/></clipPath><g clip-path="url(#ce)">
<path d="M249.5,284.4a2.3,2.3 0 1,0 4.6,0a2.3,2.3 0 1,0 -4.6,0M252.6,284.4a2.3,2.3 0 1,0 4.6,0a2.3,2.3 0 1,0 -4.6,0M255.7,284.3a2.3,2.3 0 1,0 4.6,0a2.3,2.3 0 1,0 -4.6,0M258.9,284.2a2.3,2.3 0 1,0 4.6,0a2.3,2.3 0 1,0 -4.6,0M261.8,284.0a2.3,2.3 0 1,0 4.6,0a2.3,2.3 0 1,0 -4.6,0M264.9,283.9a2.3,2.3 0 1,0 4.6,0a2.3,2.3 0 1,0 -4.6,0M267.9,283.7a2.3,2.3 0 1,0 4.6,0a2.3,2.3 0 1,0 -4.6,0M270.8,283.4a2.3,2.3 0 1,0 4.6,0a2.3,2.3 0 1,0 -4.6,0M273.8,283.2a2.3,2.3 0 1,0 4.6,0a2.3,2.3 0 1,0 -4.6,0M276.8,282.9a2.3,2.3 0 1,0 4.6,0a2.3,2.3 0 1,0 -4.6,0M279.8,282.6a2.3,2.3 0 1,0 4.6,0a2.3,2.3 0 1,0 -4.6,0M283.0,282.3a2.3,2.3 0 1,0 4.6,0a2.3,2.3 0 1,0 -4.6,0M286.2,281.9a2.3,2.3 0 1,0 4.6,0a2.3,2.3 0 1,0 -4.6,0M289.2,281.6a2.3,2.3 0 1,0 4.6,0a2.3,2.3 0 1,0 -4.6,0M292.2,281.1a2.3,2.3 0 1,0 4.6,0a2.3,2.3 0 1,0 -4.6,0M295.2,280.6a2.3,2.3 0 1,0 4.6,0a2.3,2.3 0 1,0 -4.6,0M298.1,280.0a2.3,2.3 0 1,0 4.6,0a2.3,2.3 0 1,0 -4.6,0M301.0,278.8a2.3,2.3 0 1,0 4.6,0a2.3,2.3 0 1,0 -4.6,0M303.5,276.9a2.3,2.3 0 1,0 4.6,0a2.3,2.3 0 1,0 -4.6,0M305.4,274.7a2.3,2.3 0 1,0 4.6,0a2.3,2.3 0 1,0 -4.6,0M307.2,272.1a2.3,2.3 0 1,0 4.6,0a2.3,2.3 0 1,0 -4.6,0M308.7,269.6a2.3,2.3 0 1,0 4.6,0a2.3,2.3 0 1,0 -4.6,0M310.3,267.0a2.3,2.3 0 1,0 4.6,0a2.3,2.3 0 1,0 -4.6,0M311.7,264.4a2.3,2.3 0 1,0 4.6,0a2.3,2.3 0 1,0 -4.6,0M313.0,261.6a2.3,2.3 0 1,0 4.6,0a2.3,2.3 0 1,0 -4.6,0M314.3,258.8a2.3,2.3 0 1,0 4.6,0a2.3,2.3 0 1,0 -4.6,0M315.7,256.0a2.3,2.3 0 1,0 4.6,0a2.3,2.3 0 1,0 -4.6,0M317.0,253.3a2.3,2.3 0 1,0 4.6,0a2.3,2.3 0 1,0 -4.6,0M318.3,250.6a2.3,2.3 0 1,0 4.6,0a2.3,2.3 0 1,0 -4.6,0M319.7,247.8a2.3,2.3 0 1,0 4.6,0a2.3,2.3 0 1,0 -4.6,0M321.0,245.1a2.3,2.3 0 1,0 4.6,0a2.3,2.3 0 1,0 -4.6,0M322.4,242.4a2.3,2.3 0 1,0 4.6,0a2.3,2.3 0 1,0 -4.6,0M323.7,239.8a2.3,2.3 0 1,0 4.6,0a2.3,2.3 0 1,0 -4.6,0M325.0,237.2a2.3,2.3 0 1,0 4.6,0a2.3,2.3 0 1,0 -4.6,0M326.5,234.4a2.3,2.3 0 1,0 4.6,0a2.3,2.3 0 1,0 -4.6,0M328.1,231.8a2.3,2.3 0 1,0 4.6,0a2.3,2.3 0 1,0 -4.6,0M329.9,229.5a2.3,2.3 0 1,0 4.6,0a2.3,2.3 0 1,0 -4.6,0M332.2,227.4a2.3,2.3 0 1,0 4.6,0a2.3,2.3 0 1,0 -4.6,0M335.0,226.0a2.3,2.3 0 1,0 4.6,0a2.3,2.3 0 1,0 -4.6,0M337.7,226.9a2.3,2.3 0 1,0 4.6,0a2.3,2.3 0 1,0 -4.6,0M339.8,229.3a2.3,2.3 0 1,0 4.6,0a2.3,2.3 0 1,0 -4.6,0M341.5,231.7a2.3,2.3 0 1,0 4.6,0a2.3,2.3 0 1,0 -4.6,0M343.0,234.2a2.3,2.3 0 1,0 4.6,0a2.3,2.3 0 1,0 -4.6,0M344.5,237.0a2.3,2.3 0 1,0 4.6,0a2.3,2.3 0 1,0 -4.6,0M345.9,239.6a2.3,2.3 0 1,0 4.6,0a2.3,2.3 0 1,0 -4.6,0M347.3,242.3a2.3,2.3 0 1,0 4.6,0a2.3,2.3 0 1,0 -4.6,0M348.8,244.8a2.3,2.3 0 1,0 4.6,0a2.3,2.3 0 1,0 -4.6,0M350.5,247.3a2.3,2.3 0 1,0 4.6,0a2.3,2.3 0 1,0 -4.6,0M352.5,249.8a2.3,2.3 0 1,0 4.6,0a2.3,2.3 0 1,0 -4.6,0M354.7,252.0a2.3,2.3 0 1,0 4.6,0a2.3,2.3 0 1,0 -4.6,0M357.1,253.9a2.3,2.3 0 1,0 4.6,0a2.3,2.3 0 1,0 -4.6,0M359.5,255.5a2.3,2.3 0 1,0 4.6,0a2.3,2.3 0 1,0 -4.6,0M362.4,256.8a2.3,2.3 0 1,0 4.6,0a2.3,2.3 0 1,0 -4.6,0M365.2,258.3a2.3,2.3 0 1,0 4.6,0a2.3,2.3 0 1,0 -4.6,0M367.7,259.9a2.3,2.3 0 1,0 4.6,0a2.3,2.3 0 1,0 -4.6,0M370.1,261.5a2.3,2.3 0 1,0 4.6,0a2.3,2.3 0 1,0 -4.6,0M372.7,263.0a2.3,2.3 0 1,0 4.6,0a2.3,2.3 0 1,0 -4.6,0M375.4,264.0a2.3,2.3 0 1,0 4.6,0a2.3,2.3 0 1,0 -4.6,0M378.3,264.6a2.3,2.3 0 1,0 4.6,0a2.3,2.3 0 1,0 -4.6,0M381.2,265.6a2.3,2.3 0 1,0 4.6,0a2.3,2.3 0 1,0 -4.6,0M383.9,267.0a2.3,2.3 0 1,0 4.6,0a2.3,2.3 0 1,0 -4.6,0M386.8,266.5a2.3,2.3 0 1,0 4.6,0a2.3,2.3 0 1,0 -4.6,0M389.1,264.6a2.3,2.3 0 1,0 4.6,0a2.3,2.3 0 1,0 -4.6,0M391.2,262.4a2.3,2.3 0 1,0 4.6,0a2.3,2.3 0 1,0 -4.6,0M393.6,260.3a2.3,2.3 0 1,0 4.6,0a2.3,2.3 0 1,0 -4.6,0M395.9,258.4a2.3,2.3 0 1,0 4.6,0a2.3,2.3 0 1,0 -4.6,0M398.2,256.4a2.3,2.3 0 1,0 4.6,0a2.3,2.3 0 1,0 -4.6,0M400.5,254.2a2.3,2.3 0 1,0 4.6,0a2.3,2.3 0 1,0 -4.6,0M402.4,252.0a2.3,2.3 0 1,0 4.6,0a2.3,2.3 0 1,0 -4.6,0M404.3,249.6a2.3,2.3 0 1,0 4.6,0a2.3,2.3 0 1,0 -4.6,0M406.1,247.2a2.3,2.3 0 1,0 4.6,0a2.3,2.3 0 1,0 -4.6,0M407.9,244.7a2.3,2.3 0 1,0 4.6,0a2.3,2.3 0 1,0 -4.6,0M409.6,242.2a2.3,2.3 0 1,0 4.6,0a2.3,2.3 0 1,0 -4.6,0M411.3,239.8a2.3,2.3 0 1,0 4.6,0a2.3,2.3 0 1,0 -4.6,0M412.9,237.2a2.3,2.3 0 1,0 4.6,0a2.3,2.3 0 1,0 -4.6,0M414.5,234.6a2.3,2.3 0 1,0 4.6,0a2.3,2.3 0 1,0 -4.6,0M415.9,232.0a2.3,2.3 0 1,0 4.6,0a2.3,2.3 0 1,0 -4.6,0M417.3,229.3a2.3,2.3 0 1,0 4.6,0a2.3,2.3 0 1,0 -4.6,0M418.9,226.6a2.3,2.3 0 1,0 4.6,0a2.3,2.3 0 1,0 -4.6,0M420.8,224.3a2.3,2.3 0 1,0 4.6,0a2.3,2.3 0 1,0 -4.6,0M423.3,222.9a2.3,2.3 0 1,0 4.6,0a2.3,2.3 0 1,0 -4.6,0M426.1,224.2a2.3,2.3 0 1,0 4.6,0a2.3,2.3 0 1,0 -4.6,0M427.8,226.7a2.3,2.3 0 1,0 4.6,0a2.3,2.3 0 1,0 -4.6,0M429.1,229.5a2.3,2.3 0 1,0 4.6,0a2.3,2.3 0 1,0 -4.6,0M430.3,232.2a2.3,2.3 0 1,0 4.6,0a2.3,2.3 0 1,0 -4.6,0M431.4,235.3a2.3,2.3 0 1,0 4.6,0a2.3,2.3 0 1,0 -4.6,0M432.4,238.1a2.3,2.3 0 1,0 4.6,0a2.3,2.3 0 1,0 -4.6,0M433.2,241.1a2.3,2.3 0 1,0 4.6,0a2.3,2.3 0 1,0 -4.6,0M433.9,244.1a2.3,2.3 0 1,0 4.6,0a2.3,2.3 0 1,0 -4.6,0M434.7,247.1a2.3,2.3 0 1,0 4.6,0a2.3,2.3 0 1,0 -4.6,0M435.5,250.2a2.3,2.3 0 1,0 4.6,0a2.3,2.3 0 1,0 -4.6,0M436.3,253.0a2.3,2.3 0 1,0 4.6,0a2.3,2.3 0 1,0 -4.6,0M437.6,256.1a2.3,2.3 0 1,0 4.6,0a2.3,2.3 0 1,0 -4.6,0M439.6,258.2a2.3,2.3 0 1,0 4.6,0a2.3,2.3 0 1,0 -4.6,0M442.2,256.8a2.3,2.3 0 1,0 4.6,0a2.3,2.3 0 1,0 -4.6,0M444.3,254.4a2.3,2.3 0 1,0 4.6,0a2.3,2.3 0 1,0 -4.6,0M446.1,252.1a2.3,2.3 0 1,0 4.6,0a2.3,2.3 0 1,0 -4.6,0" fill="none" stroke="#dc95cc" stroke-width="0.75"/>
<path d="M248.7,285.7C251.4,285.5 259.8,284.9 265.0,284.5C270.2,284.1 276.0,283.7 279.7,283.2C283.4,282.7 284.6,281.9 287.2,281.5C289.8,281.1 292.1,281.3 295.0,281.0C297.9,280.7 301.8,281.2 304.6,279.5C307.4,277.8 309.8,274.4 312.0,270.8C314.2,267.2 315.9,262.4 318.0,258.0C320.1,253.7 322.2,249.0 324.4,244.7C326.6,240.4 328.7,235.3 331.0,232.0C333.3,228.7 336.1,224.8 338.1,224.8C340.1,224.8 341.1,228.7 343.0,232.0C344.9,235.3 347.3,241.1 349.3,244.7C351.3,248.3 353.1,251.2 354.9,253.4C356.7,255.6 358.4,256.8 360.0,258.0C361.6,259.2 362.3,259.6 364.8,260.9C367.3,262.2 372.3,264.4 374.8,265.8C377.3,267.2 378.1,268.0 380.0,269.0C381.9,270.0 384.2,272.2 386.0,272.0C387.8,271.8 389.2,269.6 391.0,268.0C392.8,266.4 395.0,264.1 397.0,262.1C399.0,260.1 400.9,258.3 403.0,256.0C405.1,253.7 407.6,250.9 409.5,248.4C411.4,245.9 412.8,243.7 414.5,241.0C416.2,238.3 418.1,235.1 419.5,232.3C420.9,229.5 422.0,225.9 423.0,224.0C424.0,222.1 424.7,221.1 425.7,221.1C426.7,221.1 427.6,221.7 429.0,224.0C430.4,226.3 432.9,230.1 434.4,234.8C435.9,239.5 436.8,247.2 438.0,252.0C439.2,256.8 440.5,262.0 441.8,263.3C443.1,264.6 444.6,261.2 446.0,260.0C447.4,258.8 449.3,256.6 450.0,255.9" fill="none" stroke="#cb63b4" stroke-width="1.6" stroke-linejoin="round" stroke-linecap="round" opacity="1"/>
<path d="M249.3,363.4a2.3,2.3 0 1,0 4.6,0a2.3,2.3 0 1,0 -4.6,0M252.5,363.4a2.3,2.3 0 1,0 4.6,0a2.3,2.3 0 1,0 -4.6,0M255.6,363.3a2.3,2.3 0 1,0 4.6,0a2.3,2.3 0 1,0 -4.6,0M258.8,363.2a2.3,2.3 0 1,0 4.6,0a2.3,2.3 0 1,0 -4.6,0M261.9,363.0a2.3,2.3 0 1,0 4.6,0a2.3,2.3 0 1,0 -4.6,0M265.2,362.8a2.3,2.3 0 1,0 4.6,0a2.3,2.3 0 1,0 -4.6,0M268.2,362.4a2.3,2.3 0 1,0 4.6,0a2.3,2.3 0 1,0 -4.6,0M271.1,362.0a2.3,2.3 0 1,0 4.6,0a2.3,2.3 0 1,0 -4.6,0M274.0,361.6a2.3,2.3 0 1,0 4.6,0a2.3,2.3 0 1,0 -4.6,0M277.1,361.3a2.3,2.3 0 1,0 4.6,0a2.3,2.3 0 1,0 -4.6,0M280.0,361.2a2.3,2.3 0 1,0 4.6,0a2.3,2.3 0 1,0 -4.6,0M283.2,361.0a2.3,2.3 0 1,0 4.6,0a2.3,2.3 0 1,0 -4.6,0M286.1,360.7a2.3,2.3 0 1,0 4.6,0a2.3,2.3 0 1,0 -4.6,0M289.1,360.0a2.3,2.3 0 1,0 4.6,0a2.3,2.3 0 1,0 -4.6,0M292.0,358.5a2.3,2.3 0 1,0 4.6,0a2.3,2.3 0 1,0 -4.6,0M294.7,357.0a2.3,2.3 0 1,0 4.6,0a2.3,2.3 0 1,0 -4.6,0M297.6,355.7a2.3,2.3 0 1,0 4.6,0a2.3,2.3 0 1,0 -4.6,0M300.4,354.6a2.3,2.3 0 1,0 4.6,0a2.3,2.3 0 1,0 -4.6,0M303.4,354.5a2.3,2.3 0 1,0 4.6,0a2.3,2.3 0 1,0 -4.6,0M306.5,354.6a2.3,2.3 0 1,0 4.6,0a2.3,2.3 0 1,0 -4.6,0M308.9,352.9a2.3,2.3 0 1,0 4.6,0a2.3,2.3 0 1,0 -4.6,0M310.7,350.4a2.3,2.3 0 1,0 4.6,0a2.3,2.3 0 1,0 -4.6,0M312.2,347.9a2.3,2.3 0 1,0 4.6,0a2.3,2.3 0 1,0 -4.6,0M313.7,345.0a2.3,2.3 0 1,0 4.6,0a2.3,2.3 0 1,0 -4.6,0M315.0,342.2a2.3,2.3 0 1,0 4.6,0a2.3,2.3 0 1,0 -4.6,0M316.1,339.3a2.3,2.3 0 1,0 4.6,0a2.3,2.3 0 1,0 -4.6,0M317.2,336.6a2.3,2.3 0 1,0 4.6,0a2.3,2.3 0 1,0 -4.6,0M318.2,333.9a2.3,2.3 0 1,0 4.6,0a2.3,2.3 0 1,0 -4.6,0M319.3,331.1a2.3,2.3 0 1,0 4.6,0a2.3,2.3 0 1,0 -4.6,0M320.4,328.1a2.3,2.3 0 1,0 4.6,0a2.3,2.3 0 1,0 -4.6,0M321.5,325.3a2.3,2.3 0 1,0 4.6,0a2.3,2.3 0 1,0 -4.6,0M322.7,322.3a2.3,2.3 0 1,0 4.6,0a2.3,2.3 0 1,0 -4.6,0M323.9,319.4a2.3,2.3 0 1,0 4.6,0a2.3,2.3 0 1,0 -4.6,0M325.4,316.9a2.3,2.3 0 1,0 4.6,0a2.3,2.3 0 1,0 -4.6,0M327.6,315.0a2.3,2.3 0 1,0 4.6,0a2.3,2.3 0 1,0 -4.6,0M330.7,314.6a2.3,2.3 0 1,0 4.6,0a2.3,2.3 0 1,0 -4.6,0M333.3,315.8a2.3,2.3 0 1,0 4.6,0a2.3,2.3 0 1,0 -4.6,0M335.7,318.0a2.3,2.3 0 1,0 4.6,0a2.3,2.3 0 1,0 -4.6,0M337.4,320.3a2.3,2.3 0 1,0 4.6,0a2.3,2.3 0 1,0 -4.6,0M339.0,323.0a2.3,2.3 0 1,0 4.6,0a2.3,2.3 0 1,0 -4.6,0M340.4,325.6a2.3,2.3 0 1,0 4.6,0a2.3,2.3 0 1,0 -4.6,0M341.8,328.2a2.3,2.3 0 1,0 4.6,0a2.3,2.3 0 1,0 -4.6,0M343.1,330.9a2.3,2.3 0 1,0 4.6,0a2.3,2.3 0 1,0 -4.6,0M344.4,333.9a2.3,2.3 0 1,0 4.6,0a2.3,2.3 0 1,0 -4.6,0M345.7,336.8a2.3,2.3 0 1,0 4.6,0a2.3,2.3 0 1,0 -4.6,0M346.9,339.6a2.3,2.3 0 1,0 4.6,0a2.3,2.3 0 1,0 -4.6,0M348.4,342.2a2.3,2.3 0 1,0 4.6,0a2.3,2.3 0 1,0 -4.6,0M350.1,344.7a2.3,2.3 0 1,0 4.6,0a2.3,2.3 0 1,0 -4.6,0M351.9,347.1a2.3,2.3 0 1,0 4.6,0a2.3,2.3 0 1,0 -4.6,0M354.0,349.2a2.3,2.3 0 1,0 4.6,0a2.3,2.3 0 1,0 -4.6,0M356.4,350.8a2.3,2.3 0 1,0 4.6,0a2.3,2.3 0 1,0 -4.6,0M359.2,351.8a2.3,2.3 0 1,0 4.6,0a2.3,2.3 0 1,0 -4.6,0M362.1,352.4a2.3,2.3 0 1,0 4.6,0a2.3,2.3 0 1,0 -4.6,0M365.1,352.8a2.3,2.3 0 1,0 4.6,0a2.3,2.3 0 1,0 -4.6,0M367.7,354.2a2.3,2.3 0 1,0 4.6,0a2.3,2.3 0 1,0 -4.6,0M370.2,356.1a2.3,2.3 0 1,0 4.6,0a2.3,2.3 0 1,0 -4.6,0M372.8,357.6a2.3,2.3 0 1,0 4.6,0a2.3,2.3 0 1,0 -4.6,0M375.7,358.7a2.3,2.3 0 1,0 4.6,0a2.3,2.3 0 1,0 -4.6,0M378.8,358.8a2.3,2.3 0 1,0 4.6,0a2.3,2.3 0 1,0 -4.6,0M381.7,357.7a2.3,2.3 0 1,0 4.6,0a2.3,2.3 0 1,0 -4.6,0M384.6,356.9a2.3,2.3 0 1,0 4.6,0a2.3,2.3 0 1,0 -4.6,0M387.6,356.8a2.3,2.3 0 1,0 4.6,0a2.3,2.3 0 1,0 -4.6,0M390.6,357.1a2.3,2.3 0 1,0 4.6,0a2.3,2.3 0 1,0 -4.6,0M393.5,357.8a2.3,2.3 0 1,0 4.6,0a2.3,2.3 0 1,0 -4.6,0M396.6,358.0a2.3,2.3 0 1,0 4.6,0a2.3,2.3 0 1,0 -4.6,0M399.7,358.0a2.3,2.3 0 1,0 4.6,0a2.3,2.3 0 1,0 -4.6,0M402.7,357.0a2.3,2.3 0 1,0 4.6,0a2.3,2.3 0 1,0 -4.6,0M405.0,355.0a2.3,2.3 0 1,0 4.6,0a2.3,2.3 0 1,0 -4.6,0M406.9,352.5a2.3,2.3 0 1,0 4.6,0a2.3,2.3 0 1,0 -4.6,0M408.7,350.0a2.3,2.3 0 1,0 4.6,0a2.3,2.3 0 1,0 -4.6,0M410.3,347.5a2.3,2.3 0 1,0 4.6,0a2.3,2.3 0 1,0 -4.6,0M411.9,344.8a2.3,2.3 0 1,0 4.6,0a2.3,2.3 0 1,0 -4.6,0M413.4,342.0a2.3,2.3 0 1,0 4.6,0a2.3,2.3 0 1,0 -4.6,0M415.1,339.4a2.3,2.3 0 1,0 4.6,0a2.3,2.3 0 1,0 -4.6,0M416.7,336.9a2.3,2.3 0 1,0 4.6,0a2.3,2.3 0 1,0 -4.6,0M418.5,334.3a2.3,2.3 0 1,0 4.6,0a2.3,2.3 0 1,0 -4.6,0M420.5,332.1a2.3,2.3 0 1,0 4.6,0a2.3,2.3 0 1,0 -4.6,0M423.1,330.8a2.3,2.3 0 1,0 4.6,0a2.3,2.3 0 1,0 -4.6,0M426.1,330.8a2.3,2.3 0 1,0 4.6,0a2.3,2.3 0 1,0 -4.6,0M428.8,332.1a2.3,2.3 0 1,0 4.6,0a2.3,2.3 0 1,0 -4.6,0M431.1,334.1a2.3,2.3 0 1,0 4.6,0a2.3,2.3 0 1,0 -4.6,0M433.0,336.4a2.3,2.3 0 1,0 4.6,0a2.3,2.3 0 1,0 -4.6,0M434.7,339.0a2.3,2.3 0 1,0 4.6,0a2.3,2.3 0 1,0 -4.6,0M436.2,341.7a2.3,2.3 0 1,0 4.6,0a2.3,2.3 0 1,0 -4.6,0M437.6,344.3a2.3,2.3 0 1,0 4.6,0a2.3,2.3 0 1,0 -4.6,0M439.2,346.7a2.3,2.3 0 1,0 4.6,0a2.3,2.3 0 1,0 -4.6,0M440.8,349.1a2.3,2.3 0 1,0 4.6,0a2.3,2.3 0 1,0 -4.6,0M442.6,351.8a2.3,2.3 0 1,0 4.6,0a2.3,2.3 0 1,0 -4.6,0M444.4,354.3a2.3,2.3 0 1,0 4.6,0a2.3,2.3 0 1,0 -4.6,0M446.1,356.7a2.3,2.3 0 1,0 4.6,0a2.3,2.3 0 1,0 -4.6,0" fill="none" stroke="#6a9ae4" stroke-width="0.75"/>
<path d="M248.7,364.5C251.4,364.5 260.1,364.8 264.8,364.5C269.6,364.2 273.1,362.9 277.2,362.5C281.3,362.1 286.4,362.9 289.7,362.0C293.0,361.1 294.7,358.6 297.0,357.0C299.3,355.4 301.5,352.8 303.3,352.5C305.1,352.2 306.6,354.2 308.0,355.0C309.4,355.8 310.5,359.2 312.0,357.0C313.5,354.8 315.3,347.0 317.0,342.0C318.7,337.0 320.5,331.4 322.0,327.2C323.5,323.0 324.4,319.5 326.0,317.0C327.6,314.5 330.1,312.6 331.9,312.3C333.7,312.0 335.1,312.7 337.0,315.0C338.9,317.3 340.9,321.5 343.0,326.0C345.1,330.5 348.1,338.1 349.9,342.1C351.7,346.1 352.6,348.0 354.0,350.0C355.4,352.0 357.1,353.8 358.6,354.0C360.1,354.2 361.6,351.6 363.0,351.0C364.4,350.4 365.8,349.3 367.3,350.1C368.8,350.9 370.1,353.7 372.0,356.0C373.9,358.3 376.5,363.7 378.5,364.0C380.5,364.3 382.1,359.4 384.0,358.0C385.9,356.6 387.7,355.8 389.7,355.8C391.7,355.8 393.5,357.4 396.0,358.0C398.5,358.6 402.4,360.0 404.6,359.5C406.8,359.0 407.4,357.1 409.0,355.0C410.6,352.9 412.5,350.3 414.5,347.1C416.5,343.9 418.7,338.9 421.0,336.0C423.3,333.1 426.0,330.2 428.2,329.7C430.4,329.2 432.1,330.9 434.0,333.0C435.9,335.1 437.7,338.9 439.4,342.1C441.1,345.3 442.4,348.9 444.0,352.0C445.6,355.1 448.4,359.3 449.3,360.8" fill="none" stroke="#2f6fd8" stroke-width="1.6" stroke-linejoin="round" stroke-linecap="round" opacity="1"/>
</g>
<path d="M248.3,205.1 H449.8 V375.5 H248.3 Z" fill="none" stroke="#000" stroke-width="1.4"/>
<line x1="248.3" y1="290.8" x2="449.8" y2="290.8" stroke="#000" stroke-width="1.3"/>
<line x1="248.3" y1="375.5" x2="248.3" y2="377.8" stroke="#000" stroke-width="1.2"/>
<line x1="275.4" y1="375.5" x2="275.4" y2="377.0" stroke="#000" stroke-width="1.2"/>
<line x1="302.6" y1="375.5" x2="302.6" y2="377.8" stroke="#000" stroke-width="1.2"/>
<line x1="329.8" y1="375.5" x2="329.8" y2="377.0" stroke="#000" stroke-width="1.2"/>
<line x1="356.9" y1="375.5" x2="356.9" y2="377.8" stroke="#000" stroke-width="1.2"/>
<line x1="384.1" y1="375.5" x2="384.1" y2="377.0" stroke="#000" stroke-width="1.2"/>
<line x1="411.2" y1="375.5" x2="411.2" y2="377.8" stroke="#000" stroke-width="1.2"/>
<line x1="438.4" y1="375.5" x2="438.4" y2="377.0" stroke="#000" stroke-width="1.2"/>
<text x="249.1" y="390.3" font-size="12.5" text-anchor="middle" fill="#000" stroke="#000" font-weight="bold" >0</text>
<text x="303.5" y="390.3" font-size="12.5" text-anchor="middle" fill="#000" stroke="#000" font-weight="bold" >1</text>
<text x="357.9" y="390.3" font-size="12.5" text-anchor="middle" fill="#000" stroke="#000" font-weight="bold" >2</text>
<text x="412.3" y="390.3" font-size="12.5" text-anchor="middle" fill="#000" stroke="#000" font-weight="bold" >3</text>
<text x="348.6" y="399.6" font-size="12.5" text-anchor="middle" fill="#000" stroke="#000" font-weight="bold" >Radial distance (Å)</text>
<line x1="252.9" y1="211.9" x2="274.8" y2="211.9" stroke="#cb63b4" stroke-width="1.6"/>
<text x="277.5" y="216.2" font-size="12.5" text-anchor="start" fill="#000" stroke="#000" font-weight="bold" >NU-1000@Co-HHTP</text>
<circle cx="264.1" cy="222.8" r="2.2" fill="none" stroke="#dc95cc" stroke-width="0.9"/>
<text x="279.0" y="228.6" font-size="12.5" text-anchor="start" fill="#000" stroke="#000" font-weight="bold" >Fit</text>
<text x="324.0" y="263.3" font-size="12.5" text-anchor="start" fill="#000" stroke="#000" font-weight="bold" >Zr-O</text>
<text x="404.6" y="218.6" font-size="12.5" text-anchor="start" fill="#000" stroke="#000" font-weight="bold" >Zr-O-Zr</text>
<text stroke="#000" transform="translate(377.5,270) rotate(-41)" font-size="12.5" font-weight="bold">Zr-O-Co</text>
<line x1="252.4" y1="297.9" x2="274.8" y2="297.9" stroke="#2f6fd8" stroke-width="1.6"/>
<text x="278.5" y="301.2" font-size="12.5" text-anchor="start" fill="#000" stroke="#000" font-weight="bold" >NU-1000</text>
<circle cx="264.1" cy="309.1" r="2.2" fill="none" stroke="#5b8fe0" stroke-width="0.8"/>
<text x="279.0" y="314.3" font-size="12.5" text-anchor="start" fill="#000" stroke="#000" font-weight="bold" >Fit</text>
<text x="340.0" y="314.8" font-size="12.5" text-anchor="start" fill="#000" stroke="#000" font-weight="bold" >Zr-O</text>
<text x="403.3" y="323.5" font-size="12.5" text-anchor="start" fill="#000" stroke="#000" font-weight="bold" >Zr-O-Zr</text>
<text stroke="#000" transform="translate(242.8,295.5) rotate(-90)" font-size="12.5" font-weight="bold" text-anchor="middle">FT(k<tspan font-size="8.5" dy="-4">3</tspan><tspan dy="4">χ (k)) (Å</tspan><tspan font-size="8.5" dy="-4">-4</tspan><tspan dy="4">)</tspan></text>
<text x="452.5" y="15.0" font-size="22" text-anchor="start" fill="#000" stroke="#000" font-weight="bold" >c</text>
<text x="451.8" y="215.6" font-size="22" text-anchor="start" fill="#000" stroke="#000" font-weight="bold" >f</text>
<rect x="479.8" y="7.9" width="199.7" height="82.5" fill="none" stroke="#000" stroke-width="1.6"/>
<line x1="477.0" y1="10.4" x2="479.8" y2="10.4" stroke="#000" stroke-width="1.2"/>
<text x="475.6" y="13.4" font-size="12.5" text-anchor="end" fill="#000" stroke="#000" font-weight="bold" >4</text>
<line x1="477.0" y1="35.5" x2="479.8" y2="35.5" stroke="#000" stroke-width="1.2"/>
<text x="475.6" y="38.5" font-size="12.5" text-anchor="end" fill="#000" stroke="#000" font-weight="bold" >3</text>
<line x1="477.0" y1="61.9" x2="479.8" y2="61.9" stroke="#000" stroke-width="1.2"/>
<text x="475.6" y="64.9" font-size="12.5" text-anchor="end" fill="#000" stroke="#000" font-weight="bold" >2</text>
<line x1="477.0" y1="86.0" x2="479.8" y2="86.0" stroke="#000" stroke-width="1.2"/>
<text x="475.6" y="89.0" font-size="12.5" text-anchor="end" fill="#000" stroke="#000" font-weight="bold" >1</text>
<line x1="478.2" y1="22.9" x2="479.8" y2="22.9" stroke="#000" stroke-width="1.0"/>
<line x1="478.2" y1="48.7" x2="479.8" y2="48.7" stroke="#000" stroke-width="1.0"/>
<line x1="478.2" y1="74.0" x2="479.8" y2="74.0" stroke="#000" stroke-width="1.0"/>
<line x1="513.1" y1="90.4" x2="513.1" y2="92.0" stroke="#000" stroke-width="1.1"/>
<line x1="546.4" y1="90.4" x2="546.4" y2="92.9" stroke="#000" stroke-width="1.1"/>
<line x1="579.6" y1="90.4" x2="579.6" y2="92.0" stroke="#000" stroke-width="1.1"/>
<line x1="612.9" y1="90.4" x2="612.9" y2="92.9" stroke="#000" stroke-width="1.1"/>
<line x1="646.2" y1="90.4" x2="646.2" y2="92.0" stroke="#000" stroke-width="1.1"/>
<rect x="479.8" y="98.1" width="199.7" height="81.5" fill="none" stroke="#000" stroke-width="1.6"/>
<line x1="477.0" y1="98.1" x2="479.8" y2="98.1" stroke="#000" stroke-width="1.2"/>
<text x="475.6" y="100.5" font-size="12.5" text-anchor="end" fill="#000" stroke="#000" font-weight="bold" >4</text>
<line x1="477.0" y1="124.4" x2="479.8" y2="124.4" stroke="#000" stroke-width="1.2"/>
<text x="475.6" y="127.4" font-size="12.5" text-anchor="end" fill="#000" stroke="#000" font-weight="bold" >3</text>
<line x1="477.0" y1="151.7" x2="479.8" y2="151.7" stroke="#000" stroke-width="1.2"/>
<text x="475.6" y="154.7" font-size="12.5" text-anchor="end" fill="#000" stroke="#000" font-weight="bold" >2</text>
<line x1="477.0" y1="179.3" x2="479.8" y2="179.3" stroke="#000" stroke-width="1.2"/>
<text x="475.6" y="182.3" font-size="12.5" text-anchor="end" fill="#000" stroke="#000" font-weight="bold" >1</text>
<line x1="478.2" y1="111.2" x2="479.8" y2="111.2" stroke="#000" stroke-width="1.0"/>
<line x1="478.2" y1="138.1" x2="479.8" y2="138.1" stroke="#000" stroke-width="1.0"/>
<line x1="478.2" y1="165.5" x2="479.8" y2="165.5" stroke="#000" stroke-width="1.0"/>
<line x1="513.1" y1="179.6" x2="513.1" y2="181.2" stroke="#000" stroke-width="1.1"/>
<line x1="546.4" y1="179.6" x2="546.4" y2="182.1" stroke="#000" stroke-width="1.1"/>
<line x1="579.6" y1="179.6" x2="579.6" y2="181.2" stroke="#000" stroke-width="1.1"/>
<line x1="612.9" y1="179.6" x2="612.9" y2="182.1" stroke="#000" stroke-width="1.1"/>
<line x1="646.2" y1="179.6" x2="646.2" y2="181.2" stroke="#000" stroke-width="1.1"/>
<rect x="479.8" y="205.0" width="199.7" height="81.7" fill="none" stroke="#000" stroke-width="1.6"/>
<line x1="477.0" y1="210.6" x2="479.8" y2="210.6" stroke="#000" stroke-width="1.2"/>
<text x="475.6" y="213.6" font-size="12.5" text-anchor="end" fill="#000" stroke="#000" font-weight="bold" >4</text>
<line x1="477.0" y1="235.4" x2="479.8" y2="235.4" stroke="#000" stroke-width="1.2"/>
<text x="475.6" y="238.4" font-size="12.5" text-anchor="end" fill="#000" stroke="#000" font-weight="bold" >3</text>
<line x1="477.0" y1="262.1" x2="479.8" y2="262.1" stroke="#000" stroke-width="1.2"/>
<text x="475.6" y="265.1" font-size="12.5" text-anchor="end" fill="#000" stroke="#000" font-weight="bold" >2</text>
<line x1="477.0" y1="286.6" x2="479.8" y2="286.6" stroke="#000" stroke-width="1.2"/>
<text x="475.6" y="289.6" font-size="12.5" text-anchor="end" fill="#000" stroke="#000" font-weight="bold" >1</text>
<line x1="478.2" y1="223.0" x2="479.8" y2="223.0" stroke="#000" stroke-width="1.0"/>
<line x1="478.2" y1="248.8" x2="479.8" y2="248.8" stroke="#000" stroke-width="1.0"/>
<line x1="478.2" y1="274.4" x2="479.8" y2="274.4" stroke="#000" stroke-width="1.0"/>
<line x1="513.1" y1="286.7" x2="513.1" y2="288.3" stroke="#000" stroke-width="1.1"/>
<line x1="546.4" y1="286.7" x2="546.4" y2="289.2" stroke="#000" stroke-width="1.1"/>
<line x1="579.6" y1="286.7" x2="579.6" y2="288.3" stroke="#000" stroke-width="1.1"/>
<line x1="612.9" y1="286.7" x2="612.9" y2="289.2" stroke="#000" stroke-width="1.1"/>
<line x1="646.2" y1="286.7" x2="646.2" y2="288.3" stroke="#000" stroke-width="1.1"/>
<rect x="479.8" y="295.5" width="199.7" height="79.0" fill="none" stroke="#000" stroke-width="1.6"/>
<line x1="477.0" y1="299.3" x2="479.8" y2="299.3" stroke="#000" stroke-width="1.2"/>
<text x="475.6" y="302.3" font-size="12.5" text-anchor="end" fill="#000" stroke="#000" font-weight="bold" >4</text>
<line x1="477.0" y1="323.8" x2="479.8" y2="323.8" stroke="#000" stroke-width="1.2"/>
<text x="475.6" y="326.8" font-size="12.5" text-anchor="end" fill="#000" stroke="#000" font-weight="bold" >3</text>
<line x1="477.0" y1="352.1" x2="479.8" y2="352.1" stroke="#000" stroke-width="1.2"/>
<text x="475.6" y="355.1" font-size="12.5" text-anchor="end" fill="#000" stroke="#000" font-weight="bold" >2</text>
<line x1="477.0" y1="374.5" x2="479.8" y2="374.5" stroke="#000" stroke-width="1.2"/>
<text x="475.6" y="382.2" font-size="12.5" text-anchor="end" fill="#000" stroke="#000" font-weight="bold" >1</text>
<line x1="478.2" y1="311.6" x2="479.8" y2="311.6" stroke="#000" stroke-width="1.0"/>
<line x1="478.2" y1="338.0" x2="479.8" y2="338.0" stroke="#000" stroke-width="1.0"/>
<line x1="478.2" y1="363.3" x2="479.8" y2="363.3" stroke="#000" stroke-width="1.0"/>
<line x1="513.1" y1="374.5" x2="513.1" y2="376.1" stroke="#000" stroke-width="1.1"/>
<line x1="546.4" y1="374.5" x2="546.4" y2="377.0" stroke="#000" stroke-width="1.1"/>
<line x1="579.6" y1="374.5" x2="579.6" y2="376.1" stroke="#000" stroke-width="1.1"/>
<line x1="612.9" y1="374.5" x2="612.9" y2="377.0" stroke="#000" stroke-width="1.1"/>
<line x1="646.2" y1="374.5" x2="646.2" y2="376.1" stroke="#000" stroke-width="1.1"/>
<text x="481.2" y="192.8" font-size="12.5" text-anchor="middle" fill="#000" stroke="#000" font-weight="bold" >0</text>
<text x="547.3" y="192.8" font-size="12.5" text-anchor="middle" fill="#000" stroke="#000" font-weight="bold" >5</text>
<text x="613.4" y="192.8" font-size="12.5" text-anchor="middle" fill="#000" stroke="#000" font-weight="bold" >10</text>
<text x="679.5" y="192.8" font-size="12.5" text-anchor="middle" fill="#000" stroke="#000" font-weight="bold" >15</text>
<text x="480.2" y="388.7" font-size="12.5" text-anchor="middle" fill="#000" stroke="#000" font-weight="bold" >0</text>
<text x="546.0" y="388.7" font-size="12.5" text-anchor="middle" fill="#000" stroke="#000" font-weight="bold" >5</text>
<text x="611.9" y="388.7" font-size="12.5" text-anchor="middle" fill="#000" stroke="#000" font-weight="bold" >10</text>
<text x="677.8" y="388.7" font-size="12.5" text-anchor="middle" fill="#000" stroke="#000" font-weight="bold" >15</text>
<text stroke="#000" x="584.5" y="195.6" font-size="12.5" font-weight="bold" text-anchor="middle">k (Å<tspan font-size="8.5" dy="-4">-1</tspan><tspan dy="4">)</tspan></text>
<text stroke="#000" x="583.8" y="400.5" font-size="12.5" font-weight="bold" text-anchor="middle">k (Å<tspan font-size="8.5" dy="-4">-1</tspan><tspan dy="4">)</tspan></text>
<text stroke="#000" transform="translate(462.2,93) rotate(-90)" font-size="12.5" font-weight="bold" text-anchor="middle">R+ΔR (Å)</text>
<text stroke="#000" transform="translate(462.2,291.5) rotate(-90)" font-size="12.5" font-weight="bold" text-anchor="middle">R+ΔR (Å)</text>
<text x="481.6" y="19.9" font-size="12.5" text-anchor="start" fill="#fff" stroke="#fff" font-weight="bold" >NU-1000@Co-HHTP</text>
<text x="506.0" y="63.5" font-size="12.5" text-anchor="start" fill="#fff" stroke="#fff" font-weight="bold" >Co-O</text>
<text x="601.0" y="58.3" font-size="12.5" text-anchor="start" fill="#fff" stroke="#fff" font-weight="bold" >Co-O-Zr</text>
<text x="484.3" y="111.6" font-size="12.5" text-anchor="start" fill="#fff" stroke="#fff" font-weight="bold" >CoO</text>
<text x="530.6" y="127.3" font-size="12.5" text-anchor="start" fill="#fff" stroke="#fff" font-weight="bold" >Co-Co</text>
<text x="522.7" y="162.3" font-size="12.5" text-anchor="start" fill="#fff" stroke="#fff" font-weight="bold" >Co-O</text>
<text x="481.6" y="216.3" font-size="12.5" text-anchor="start" fill="#fff" stroke="#fff" font-weight="bold" >NU-1000@Co-HHTP</text>
<text x="532.3" y="256.0" font-size="12.5" text-anchor="start" fill="#fff" stroke="#fff" font-weight="bold" >Zr-O</text>
<text x="600.3" y="253.3" font-size="12.5" text-anchor="start" fill="#fff" stroke="#fff" font-weight="bold" >Zr-O-Co</text>
<text stroke="#fff" x="482.6" y="307.4" font-size="12.5" font-weight="bold" fill="#fff">ZrO<tspan font-size="8.5" dy="3">2</tspan></text>
<text x="534.0" y="348.6" font-size="12.5" text-anchor="start" fill="#fff" stroke="#fff" font-weight="bold" >Zr-O</text>
<text x="602.7" y="340.0" font-size="12.5" text-anchor="start" fill="#fff" stroke="#fff" font-weight="bold" >Zr-O-Zr</text>
</svg></div>
<script>
(function(){
var defs=[{"x": 479.8, "y": 7.9, "w": 199.7, "h": 82.5, "b": [[131, 25, 23, 12, 0.64, 1, 0], [110, 38, 62, 6.5, 0.19, 1, 0], [188, 8, 22, 14, 0.17, 1, 0], [84, 65.9, 46, 5.5, 0.36, 1, 0], [85, 66, 75, 12, 0.21, 1, 0], [54, 20, 8, 4, -0.1, 1, 0], [80, 23, 8, 3.5, -0.05, 1, 0], [177, 20, 7, 4.5, -0.15, 1, 0], [63, 50, 10, 3, -0.12, 1, 0], [108, 52, 10, 3, -0.12, 1, 0], [191, 66, 8, 5, -0.1, 1, 0], [117, 78, 25, 2.5, -0.1, 1, 0]]}, {"x": 479.8, "y": 98.1, "w": 199.7, "h": 81.5, "b": [[98, 38, 40, 9, 0.63, 1, -0.06], [125, 17, 32, 7, 0.2, 1.2, 0], [110, 2, 16, 6, 0.16, 1, 0], [75, 64.5, 40, 5, 0.21, 1.1, 0], [142, 35, 30, 8, 0.12, 1, -0.1], [150, 64, 30, 3.5, 0.06, 1, 0], [102, 17.3, 7, 4, -0.26, 1, 0], [148, 17.3, 7, 4, -0.26, 1, 0], [58.7, 53.6, 10, 3, -0.06, 1, 0], [140, 52, 14, 3, -0.06, 1, 0], [175, 75, 22, 6, -0.06, 1, 0], [190, 15, 15, 15, -0.04, 1, 0], [20, 5, 25, 10, -0.04, 1, 0], [45, 20, 25, 8, -0.03, 1, 0], [15, 75, 25, 8, 0.06, 1, 0]]}, {"x": 479.8, "y": 205.0, "w": 199.7, "h": 81.69999999999999, "b": [[129.5, 25, 33, 11, 0.6, 1, -0.15], [172, 8, 25, 8, 0.1, 1, -0.3], [81, 65.2, 40, 6.5, 0.37, 1, 0], [75, 66, 48, 13, 0.21, 1, 0], [20, 66, 25, 8, 0.06, 1, 0], [56, 35, 10, 5, -0.1, 1, 0], [80, 44, 10, 4, -0.1, 1, 0], [110, 45, 15, 4, -0.08, 1, 0], [188, 40, 12, 5, -0.12, 1, 0], [140, 78, 20, 3, -0.06, 1, 0], [135, 2, 10, 3, -0.05, 1, 0], [15, 8, 30, 14, -0.05, 1, 0], [190, 65, 12, 8, -0.05, 1, 0]]}, {"x": 479.8, "y": 295.5, "w": 199.7, "h": 79.0, "b": [[122, 23.5, 50, 9.5, 0.62, 1, -0.1], [152, 21, 22, 10, 0.1, 1, -0.1], [75, 63.5, 47.5, 7, 0.47, 1, 0], [70, 64, 50, 13, 0.17, 1, 0], [112, 3, 14, 6, -0.14, 1, 0], [45, 32, 14, 5, -0.1, 1, 0], [118, 42, 18, 4, -0.12, 1, 0], [175, 47, 15, 4, -0.08, 1, 0], [20, 12, 35, 14, -0.08, 1, 0], [188, 76, 20, 7, -0.08, 1, 0], [140, 50, 20, 3, -0.06, 1, 0]]}];
function cl(x){return Math.max(0,Math.min(1,x));}
function jet(v){var S=[[0,0,0,150],[0.15,0,0,255],[0.38,0,255,255],[0.52,0,255,0],[0.68,255,255,0],[0.88,255,0,0],[1.0,210,0,0]];
 v=cl(v);for(var q=1;q<S.length;q++){if(v<=S[q][0]){var t=(v-S[q-1][0])/(S[q][0]-S[q-1][0]);return [S[q-1][1]+t*(S[q][1]-S[q-1][1]),S[q-1][2]+t*(S[q][2]-S[q-1][2]),S[q-1][3]+t*(S[q][3]-S[q-1][3])];}}return [210,0,0];}
var BASE=0.22, L=0.1, L0=0.0;
for(var m=0;m<defs.length;m++){var d=defs[m];
 var c=document.getElementById('map'+m);var ctx=c.getContext('2d');var W=c.width,H=c.height;
 var img=ctx.createImageData(W,H);var F=new Float32Array((W+2)*(H+2));
 for(var j=-1;j<=H;j++)for(var i=-1;i<=W;i++){var px=i+0.5+Math.floor(d.x)-d.x, py=j+0.5+Math.floor(d.y)-d.y;var v=BASE;
  for(var k=0;k<d.b.length;k++){var B=d.b[k];var ddx=px-B[0],ddy=py-B[1];var cs=Math.cos(B[6]),sn=Math.sin(B[6]);
   var dx=(ddx*cs+ddy*sn)/B[2],dy=(-ddx*sn+ddy*cs)/B[3];v+=B[4]*Math.exp(-0.5*Math.pow(dx*dx+dy*dy,B[5]));}
  F[(j+1)*(W+2)+(i+1)]=v;}
 for(var j=0;j<H;j++)for(var i=0;i<W;i++){var v=F[(j+1)*(W+2)+(i+1)];var col=jet(v);
  var gx=(F[(j+1)*(W+2)+(i+2)]-F[(j+1)*(W+2)+i])/2,gy=(F[(j+2)*(W+2)+(i+1)]-F[j*(W+2)+(i+1)])/2;var g=Math.sqrt(gx*gx+gy*gy)/L+1e-6;
  var u=(v-L0)/L;var dist=Math.abs(u-Math.round(u))/g;var a=Math.max(0,1-dist/0.65)*0.36; 
  var p=(j*W+i)*4;img.data[p]=col[0]*(1-a)+30*a;img.data[p+1]=col[1]*(1-a)+30*a;img.data[p+2]=col[2]*(1-a)+40*a;img.data[p+3]=255;}
 ctx.putImageData(img,0,0);}
})();
</script>
</body></html>
